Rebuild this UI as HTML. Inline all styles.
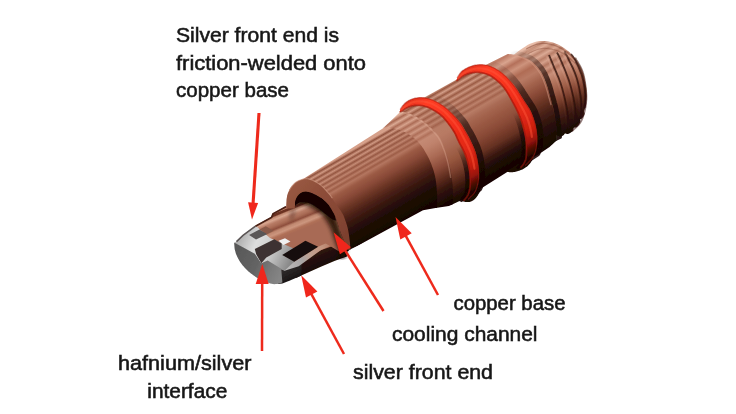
<!DOCTYPE html>
<html><head><meta charset="utf-8">
<style>
html,body{margin:0;padding:0;background:#fff;}
body{width:736px;height:414px;overflow:hidden;font-family:"Liberation Sans",sans-serif;}
svg{display:block;}
text{font-family:"Liberation Sans",sans-serif;font-size:21px;fill:#161616;stroke:#161616;stroke-width:0.55px;}
</style></head><body>
<svg width="736" height="414" viewBox="0 0 736 414">
<defs>
<filter id="soft" x="-5%" y="-5%" width="110%" height="110%"><feGaussianBlur stdDeviation="0.7"/></filter>
<filter id="soft2" x="-5%" y="-5%" width="110%" height="110%"><feGaussianBlur stdDeviation="0.5"/></filter>
<filter id="softT" x="-5%" y="-20%" width="110%" height="140%"><feGaussianBlur stdDeviation="0.35"/></filter>
<filter id="b3" x="-30%" y="-30%" width="160%" height="160%"><feGaussianBlur stdDeviation="3"/></filter>
<filter id="b2" x="-30%" y="-30%" width="160%" height="160%"><feGaussianBlur stdDeviation="2"/></filter>
<filter id="b1" x="-30%" y="-30%" width="160%" height="160%"><feGaussianBlur stdDeviation="1.1"/></filter>
<linearGradient id="gThread" gradientUnits="userSpaceOnUse" x1="538.0" y1="41.3" x2="586.5" y2="125.2"><stop offset="0.0" stop-color="#e8bca8"/><stop offset="0.036" stop-color="#be8771"/><stop offset="0.072" stop-color="#e2b39e"/><stop offset="0.108" stop-color="#bb826c"/><stop offset="0.144" stop-color="#dbaa95"/><stop offset="0.18" stop-color="#b87d67"/><stop offset="0.216" stop-color="#d5a08b"/><stop offset="0.252" stop-color="#b57862"/><stop offset="0.288" stop-color="#ce9782"/><stop offset="0.324" stop-color="#b2735d"/><stop offset="0.36" stop-color="#c88e78"/><stop offset="0.44" stop-color="#b4765f"/><stop offset="0.53" stop-color="#a0604a"/><stop offset="0.62" stop-color="#834532"/><stop offset="0.72" stop-color="#5a2a1c"/><stop offset="0.82" stop-color="#381710"/><stop offset="0.92" stop-color="#200b07"/><stop offset="1" stop-color="#160604"/></linearGradient>
<linearGradient id="gHl" gradientUnits="userSpaceOnUse" x1="538.0" y1="41.3" x2="586.5" y2="125.2"><stop offset="0" stop-color="rgba(224,176,156,0.55)"/><stop offset="0.35" stop-color="rgba(219,168,148,0.4)"/><stop offset="0.6" stop-color="rgba(200,140,120,0.1)"/><stop offset="1" stop-color="rgba(200,140,120,0)"/></linearGradient>
<linearGradient id="gShG" gradientUnits="userSpaceOnUse" x1="510.0" y1="52.0" x2="563.7" y2="145.0"><stop offset="0" stop-color="rgba(30,10,6,0)"/><stop offset="0.15" stop-color="rgba(30,10,6,0.25)"/><stop offset="0.4" stop-color="rgba(30,10,6,0.75)"/><stop offset="1" stop-color="rgba(20,6,4,0.95)"/></linearGradient>
<linearGradient id="gShoulder" gradientUnits="userSpaceOnUse" x1="492.0" y1="58.0" x2="545.2" y2="150.2"><stop offset="0" stop-color="#d39c86"/><stop offset="0.05" stop-color="#bd7c66"/><stop offset="0.1" stop-color="#d9a48e"/><stop offset="0.15" stop-color="#b4705a"/><stop offset="0.2" stop-color="#cd937c"/><stop offset="0.26" stop-color="#b06c55"/><stop offset="0.32" stop-color="#b87a64"/><stop offset="0.4" stop-color="#a3634d"/><stop offset="0.5" stop-color="#8a4a37"/><stop offset="0.6" stop-color="#683323"/><stop offset="0.7" stop-color="#472016"/><stop offset="0.8" stop-color="#2e120c"/><stop offset="0.9" stop-color="#1e0a06"/><stop offset="1" stop-color="#160604"/></linearGradient>
<linearGradient id="gMid" gradientUnits="userSpaceOnUse" x1="440.0" y1="88.0" x2="494.8" y2="183.0"><stop offset="0.0" stop-color="#d8a48e"/><stop offset="0.0236" stop-color="#975740"/><stop offset="0.0471" stop-color="#d39e88"/><stop offset="0.0707" stop-color="#995942"/><stop offset="0.0943" stop-color="#cf9983"/><stop offset="0.1179" stop-color="#9b5b44"/><stop offset="0.1414" stop-color="#ca937d"/><stop offset="0.165" stop-color="#9d5d46"/><stop offset="0.1886" stop-color="#c68d77"/><stop offset="0.2121" stop-color="#9f5f49"/><stop offset="0.2357" stop-color="#c18771"/><stop offset="0.2593" stop-color="#a1614b"/><stop offset="0.2829" stop-color="#bd826c"/><stop offset="0.3064" stop-color="#a3634d"/><stop offset="0.33" stop-color="#b87c66"/><stop offset="0.38" stop-color="#a96a54"/><stop offset="0.46" stop-color="#9c5b45"/><stop offset="0.56" stop-color="#8c4c38"/><stop offset="0.64" stop-color="#783c2b"/><stop offset="0.7" stop-color="#653122"/><stop offset="0.77" stop-color="#3c1911"/><stop offset="0.84" stop-color="#200b07"/><stop offset="0.92" stop-color="#170604"/><stop offset="1" stop-color="#160604"/></linearGradient>
<linearGradient id="gCol" gradientUnits="userSpaceOnUse" x1="402.0" y1="110.0" x2="456.7" y2="204.7"><stop offset="0.0" stop-color="#d8a48e"/><stop offset="0.025" stop-color="#975740"/><stop offset="0.05" stop-color="#d39d87"/><stop offset="0.075" stop-color="#9a5a43"/><stop offset="0.1" stop-color="#cd9781"/><stop offset="0.125" stop-color="#9c5c45"/><stop offset="0.15" stop-color="#c8907a"/><stop offset="0.175" stop-color="#9e5e48"/><stop offset="0.2" stop-color="#c38973"/><stop offset="0.225" stop-color="#a0604a"/><stop offset="0.25" stop-color="#bd836d"/><stop offset="0.275" stop-color="#a3634d"/><stop offset="0.3" stop-color="#b87c66"/><stop offset="0.38" stop-color="#b87a64"/><stop offset="0.5" stop-color="#a96a54"/><stop offset="0.62" stop-color="#98583f"/><stop offset="0.72" stop-color="#7c402e"/><stop offset="0.8" stop-color="#5a2a1c"/><stop offset="0.88" stop-color="#341409"/><stop offset="0.95" stop-color="#1c0805"/><stop offset="1" stop-color="#160604"/></linearGradient>
<linearGradient id="gCone" gradientUnits="userSpaceOnUse" x1="390.0" y1="120.0" x2="439.9" y2="206.4"><stop offset="0.0" stop-color="#e0b09a"/><stop offset="0.0283" stop-color="#aa6a54"/><stop offset="0.0567" stop-color="#dbaa94"/><stop offset="0.085" stop-color="#ac6c56"/><stop offset="0.1133" stop-color="#d7a38d"/><stop offset="0.1417" stop-color="#ac6c56"/><stop offset="0.17" stop-color="#d29d87"/><stop offset="0.1983" stop-color="#ae6e58"/><stop offset="0.2267" stop-color="#cd9781"/><stop offset="0.255" stop-color="#ae6e58"/><stop offset="0.2833" stop-color="#c9907a"/><stop offset="0.3117" stop-color="#b0705a"/><stop offset="0.34" stop-color="#c48a74"/><stop offset="0.42" stop-color="#bf826c"/><stop offset="0.54" stop-color="#aa6a54"/><stop offset="0.66" stop-color="#8a4a38"/><stop offset="0.77" stop-color="#5e2c1e"/><stop offset="0.87" stop-color="#34140c"/><stop offset="1" stop-color="#180604"/></linearGradient>
<linearGradient id="gTube" gradientUnits="userSpaceOnUse" x1="340.0" y1="157.0" x2="383.2" y2="231.9"><stop offset="0.0" stop-color="#d6a08a"/><stop offset="0.0258" stop-color="#8f513d"/><stop offset="0.0517" stop-color="#d09983"/><stop offset="0.0775" stop-color="#92543f"/><stop offset="0.1033" stop-color="#cb927c"/><stop offset="0.1292" stop-color="#955641"/><stop offset="0.155" stop-color="#c58b75"/><stop offset="0.1808" stop-color="#975843"/><stop offset="0.2067" stop-color="#bf846e"/><stop offset="0.2325" stop-color="#9a5a45"/><stop offset="0.2583" stop-color="#ba7d67"/><stop offset="0.2842" stop-color="#9d5d47"/><stop offset="0.31" stop-color="#b47660"/><stop offset="0.36" stop-color="#9c5b45"/><stop offset="0.45" stop-color="#8a4a38"/><stop offset="0.55" stop-color="#6a3424"/><stop offset="0.65" stop-color="#4a2016"/><stop offset="0.75" stop-color="#30130c"/><stop offset="0.85" stop-color="#1e0a06"/><stop offset="1" stop-color="#160604"/></linearGradient>
<linearGradient id="gTipSide" gradientUnits="userSpaceOnUse" x1="300.0" y1="256.0" x2="309.0" y2="277.0"><stop offset="0" stop-color="#38190f"/><stop offset="0.4" stop-color="#240f0a"/><stop offset="1" stop-color="#140504"/></linearGradient>
<linearGradient id="gTipSideS" gradientUnits="userSpaceOnUse" x1="278.0" y1="270.0" x2="286.0" y2="286.0"><stop offset="0" stop-color="#343030"/><stop offset="0.5" stop-color="#242020"/><stop offset="1" stop-color="#141010"/></linearGradient>
<linearGradient id="gPlane" gradientUnits="userSpaceOnUse" x1="280.0" y1="208.2" x2="290.7" y2="234.2"><stop offset="0" stop-color="#4a2016"/><stop offset="0.03" stop-color="#c89078"/><stop offset="0.09" stop-color="#c08068"/><stop offset="0.12" stop-color="#6a3020"/><stop offset="0.18" stop-color="#6e3424"/><stop offset="0.22" stop-color="#c08870"/><stop offset="0.3" stop-color="#d8a690"/><stop offset="0.4" stop-color="#b87c66"/><stop offset="0.52" stop-color="#a86a54"/><stop offset="0.62" stop-color="#8e4e3c"/><stop offset="0.7" stop-color="#c08870"/><stop offset="0.8" stop-color="#cc967e"/><stop offset="0.9" stop-color="#b07058"/><stop offset="1" stop-color="#a86a54"/></linearGradient>
<linearGradient id="gNear" gradientUnits="userSpaceOnUse" x1="282.0" y1="266.0" x2="340.0" y2="240.0"><stop offset="0" stop-color="#c0c0c0"/><stop offset="0.33" stop-color="#a8a4a4"/><stop offset="0.48" stop-color="#c0a090"/><stop offset="0.7" stop-color="#c4947e"/><stop offset="1" stop-color="#a0604c"/></linearGradient>
<linearGradient id="gSilver" gradientUnits="userSpaceOnUse" x1="240.0" y1="238.0" x2="290.0" y2="262.0"><stop offset="0" stop-color="#b0b0b0"/><stop offset="0.3" stop-color="#dedede"/><stop offset="0.6" stop-color="#cccccc"/><stop offset="1" stop-color="#8a8a8a"/></linearGradient>
<linearGradient id="gFace" gradientUnits="userSpaceOnUse" x1="236.0" y1="250.0" x2="282.0" y2="272.0"><stop offset="0" stop-color="#585858"/><stop offset="0.5" stop-color="#646464"/><stop offset="0.75" stop-color="#787878"/><stop offset="1" stop-color="#858585"/></linearGradient>
<clipPath id="archclip"><path d="M286.3,208.5 L286.3,207.4 L286.4,205.8 L286.4,204.1 L286.5,202.5 L286.6,201.2 L286.6,200.0 L286.7,198.8 L286.9,197.6 L287.1,196.4 L287.3,195.3 L287.6,194.1 L288.0,193.0 L288.4,191.9 L288.9,190.9 L289.4,189.8 L290.0,188.8 L290.6,187.8 L291.3,186.8 L292.0,185.9 L292.8,185.0 L293.6,184.2 L294.5,183.3 L295.4,182.6 L296.3,181.9 L297.3,181.3 L298.3,180.8 L299.4,180.3 L300.5,179.9 L301.6,179.5 L302.8,179.2 L304.0,178.9 L305.1,178.8 L306.1,178.8 L307.1,178.9 L308.1,179.1 L309.0,179.3 L309.9,179.6 L310.9,179.9 L311.8,180.3 L312.7,180.7 L313.6,181.1 L314.6,181.6 L315.6,182.1 L316.5,182.6 L317.4,183.2 L318.4,183.8 L319.3,184.4 L320.2,185.1 L321.1,185.8 L321.9,186.5 L322.7,187.2 L323.5,188.0 L324.3,188.8 L325.0,189.7 L325.8,190.5 L326.5,191.4 L327.2,192.2 L328.0,193.0 L328.7,193.9 L329.4,194.7 L330.1,195.6 L330.8,196.5 L331.5,197.4 L332.1,198.3 L332.7,199.2 L333.3,200.0 L333.8,200.9 L334.4,201.7 L334.9,202.5 L335.4,203.4 L336.0,204.2 L336.5,205.0 L337.1,205.8 L337.7,206.6 L338.4,207.4 L339.0,208.3 L339.6,209.2 L340.3,210.1 L340.9,211.1 L341.5,212.0 L342.0,212.9 L342.6,213.7 L343.0,214.6 L343.5,215.5 L343.9,216.4 L344.3,217.4 L344.6,218.4 L345.0,219.5 L345.4,220.7 L345.9,221.9 L346.3,223.2 L346.7,224.5 L347.1,225.7 L347.4,226.9 L347.7,228.1 L348.0,229.4 L348.3,230.9 L348.6,232.6 L348.9,234.4 L349.1,236.0 L349.3,237.5 L349.5,238.9 L349.7,240.4 L349.9,242.0 L350.1,244.0 L350.2,246.4 L350.4,248.5 L350.5,250.0 L353.0,258.0 L330.0,262.0 L282.0,236.0 L282.0,209.0 Z"/></clipPath><linearGradient id="gRingFace" gradientUnits="userSpaceOnUse" x1="288.0" y1="185.0" x2="345.0" y2="240.0"><stop offset="0" stop-color="#9a5a43"/><stop offset="0.3" stop-color="#8f4f3a"/><stop offset="0.6" stop-color="#884836"/><stop offset="1" stop-color="#7c402e"/></linearGradient>
<linearGradient id="gSh1f" gradientUnits="userSpaceOnUse" x1="408.0" y1="100.0" x2="467.8" y2="203.6"><stop offset="0" stop-color="rgba(24,6,4,0)"/><stop offset="0.55" stop-color="rgba(24,6,4,0)"/><stop offset="0.75" stop-color="rgba(24,6,4,0.7)"/><stop offset="1" stop-color="rgba(20,6,4,0.95)"/></linearGradient>
<linearGradient id="gSh2f" gradientUnits="userSpaceOnUse" x1="468.0" y1="66.0" x2="526.8" y2="167.8"><stop offset="0" stop-color="rgba(24,6,4,0)"/><stop offset="0.55" stop-color="rgba(24,6,4,0)"/><stop offset="0.75" stop-color="rgba(24,6,4,0.7)"/><stop offset="1" stop-color="rgba(20,6,4,0.95)"/></linearGradient>
<linearGradient id="gSh1" gradientUnits="userSpaceOnUse" x1="408.0" y1="100.0" x2="467.8" y2="203.6"><stop offset="0" stop-color="rgba(24,6,4,0)"/><stop offset="0.22" stop-color="rgba(24,6,4,0.12)"/><stop offset="0.42" stop-color="rgba(24,6,4,0.6)"/><stop offset="1" stop-color="rgba(24,6,4,0.9)"/></linearGradient>
<linearGradient id="gSh2" gradientUnits="userSpaceOnUse" x1="468.0" y1="66.0" x2="526.8" y2="167.8"><stop offset="0" stop-color="rgba(24,6,4,0)"/><stop offset="0.22" stop-color="rgba(24,6,4,0.12)"/><stop offset="0.42" stop-color="rgba(24,6,4,0.6)"/><stop offset="1" stop-color="rgba(24,6,4,0.9)"/></linearGradient>
<linearGradient id="gO1" gradientUnits="userSpaceOnUse" x1="408.0" y1="100.0" x2="467.8" y2="203.6"><stop offset="0" stop-color="#e0301c"/><stop offset="0.1" stop-color="#ff3c24"/><stop offset="0.4" stop-color="#f22e1a"/><stop offset="0.6" stop-color="#e02816"/><stop offset="0.74" stop-color="#c81e0e"/><stop offset="0.82" stop-color="#9a1409"/><stop offset="0.88" stop-color="#4e0a04"/><stop offset="0.93" stop-color="#220604"/><stop offset="1" stop-color="#1a0503"/></linearGradient>
<linearGradient id="gO2" gradientUnits="userSpaceOnUse" x1="468.0" y1="66.0" x2="526.8" y2="167.8"><stop offset="0" stop-color="#e0301c"/><stop offset="0.1" stop-color="#ff3c24"/><stop offset="0.4" stop-color="#f22e1a"/><stop offset="0.6" stop-color="#e02816"/><stop offset="0.74" stop-color="#c81e0e"/><stop offset="0.82" stop-color="#9a1409"/><stop offset="0.88" stop-color="#4e0a04"/><stop offset="0.93" stop-color="#220604"/><stop offset="1" stop-color="#1a0503"/></linearGradient>
<clipPath id="bodyclip"><path d="M456.7,79.5 L457.0,79.2 L457.4,78.7 L457.9,78.2 L458.5,77.6 L459.1,76.9 L459.7,76.3 L460.4,75.6 L461.0,75.0 L461.7,74.4 L462.4,73.9 L463.0,73.4 L463.7,73.0 L464.3,72.6 L465.0,72.2 L465.8,71.8 L466.5,71.5 L467.2,71.2 L468.0,70.9 L468.8,70.6 L469.6,70.3 L470.4,70.0 L471.2,69.8 L472.1,69.6 L472.9,69.4 L473.8,69.2 L474.7,69.1 L475.6,68.9 L476.5,68.8 L477.4,68.8 L478.4,68.8 L479.3,68.8 L480.2,68.8 L481.2,68.9 L482.1,69.0 L483.1,69.1 L484.0,69.3 L485.0,69.5 L485.9,69.7 L486.9,70.0 L487.8,70.2 L488.7,70.6 L489.6,70.9 L490.5,71.3 L491.4,71.8 L492.3,72.2 L493.2,72.7 L494.0,73.3 L494.9,73.8 L495.7,74.4 L496.6,75.0 L497.4,75.6 L498.3,76.2 L499.1,76.8 L499.9,77.5 L500.7,78.2 L501.6,78.9 L502.4,79.6 L503.2,80.4 L504.0,81.2 L504.8,82.1 L505.5,83.0 L506.3,83.9 L507.1,84.9 L507.9,85.9 L508.6,86.9 L509.4,87.9 L510.2,89.0 L510.9,90.1 L511.7,91.3 L512.5,92.5 L513.3,93.7 L514.1,95.0 L514.9,96.3 L515.7,97.7 L516.5,99.1 L517.3,100.5 L518.1,102.0 L518.9,103.4 L519.6,104.8 L520.4,106.1 L521.1,107.4 L521.7,108.7 L522.4,110.0 L523.1,111.2 L523.7,112.5 L524.4,113.8 L525.0,115.0 L525.5,116.3 L526.1,117.6 L526.6,118.8 L527.1,120.2 L527.6,121.5 L528.0,122.8 L528.4,124.1 L528.8,125.5 L529.2,126.8 L529.5,128.1 L529.8,129.5 L530.1,130.8 L530.4,132.1 L530.6,133.3 L530.8,134.6 L531.0,135.9 L531.2,137.2 L531.3,138.4 L531.4,139.7 L531.5,140.9 L531.5,142.1 L531.6,143.2 L531.6,144.3 L531.6,145.4 L531.6,146.5 L531.6,147.5 L531.5,148.5 L531.4,149.4 L531.4,150.4 L531.3,151.3 L531.1,152.1 L531.0,153.0 L530.9,153.8 L530.7,154.5 L530.5,155.2 L530.3,155.9 L530.1,156.5 L529.8,157.1 L529.6,157.7 L529.3,158.3 L529.1,158.8 L528.8,159.4 L528.5,159.9 L528.2,160.4 L527.9,160.9 L527.5,161.4 L527.1,161.9 L526.8,162.4 L526.4,162.8 L526.0,163.3 L525.7,163.7 L525.3,164.0 L525.0,164.4 L524.7,164.7 L524.4,165.0 L524.1,165.3 L523.8,165.6 L523.5,165.9 L523.3,166.1 L523.0,166.3 L522.8,166.5 L522.6,166.6 L522.5,166.8 L552.0,147.5 L552.2,147.4 L552.5,147.2 L552.8,147.1 L553.1,146.8 L553.5,146.6 L553.8,146.3 L554.2,145.9 L554.5,145.5 L554.8,145.0 L555.1,144.5 L555.5,143.8 L555.8,143.2 L556.1,142.5 L556.4,141.7 L556.6,140.9 L556.8,140.0 L556.9,139.0 L556.9,138.0 L556.9,136.9 L556.9,135.8 L556.9,134.6 L556.8,133.4 L556.7,132.2 L556.6,131.0 L556.5,129.8 L556.4,128.7 L556.3,127.5 L556.2,126.4 L556.0,125.2 L555.9,123.9 L555.7,122.7 L555.5,121.4 L555.3,120.1 L555.1,118.7 L554.9,117.2 L554.6,115.8 L554.4,114.3 L554.1,112.9 L553.8,111.4 L553.5,110.0 L553.2,108.6 L552.8,107.2 L552.5,105.9 L552.1,104.5 L551.7,103.2 L551.3,101.8 L550.9,100.3 L550.5,98.8 L550.1,97.2 L549.6,95.5 L549.1,93.7 L548.6,91.9 L548.1,90.1 L547.6,88.3 L547.0,86.6 L546.5,85.0 L545.9,83.4 L545.4,81.9 L544.8,80.4 L544.2,79.0 L543.6,77.6 L543.0,76.2 L542.3,74.9 L541.7,73.7 L541.0,72.6 L540.4,71.5 L539.7,70.5 L539.0,69.5 L538.3,68.6 L537.5,67.7 L536.8,66.9 L536.0,66.0 L535.2,65.1 L534.5,64.3 L533.7,63.5 L532.9,62.7 L532.0,62.0 L531.1,61.3 L530.2,60.6 L529.1,59.9 L527.9,59.2 L526.6,58.6 L525.2,58.0 L523.8,57.4 L522.3,56.9 L520.8,56.4 L519.4,55.9 L518.0,55.5 L516.6,55.2 L515.1,54.9 L513.6,54.7 L512.2,54.5 L510.8,54.3 L509.5,54.2 L508.5,54.1 L507.7,54.0 Z"/><path d="M399.9,110.9 L400.3,110.6 L400.8,110.1 L401.3,109.6 L401.9,109.0 L402.6,108.4 L403.4,107.7 L404.1,107.1 L404.8,106.5 L405.6,105.9 L406.3,105.4 L407.0,105.0 L407.7,104.6 L408.4,104.2 L409.1,103.9 L409.9,103.5 L411.0,103.0 L411.8,102.7 L412.6,102.5 L413.4,102.3 L414.3,102.1 L415.2,102.0 L416.1,101.8 L417.0,101.8 L418.0,101.7 L418.9,101.7 L419.9,101.7 L420.9,101.7 L421.9,101.8 L422.8,101.9 L423.8,102.0 L425.2,102.3 L426.1,102.5 L427.1,102.8 L428.0,103.0 L429.0,103.4 L429.9,103.7 L430.9,104.1 L431.8,104.5 L432.8,105.0 L433.7,105.4 L434.7,105.9 L435.6,106.5 L436.6,107.0 L437.5,107.6 L438.5,108.2 L439.9,109.2 L440.8,109.8 L441.7,110.5 L442.6,111.2 L443.5,111.9 L444.3,112.7 L445.1,113.5 L446.0,114.3 L446.8,115.1 L447.6,116.0 L448.4,116.8 L449.2,117.7 L450.0,118.6 L450.8,119.6 L451.6,120.5 L452.9,121.9 L453.6,122.9 L454.4,123.8 L455.1,124.8 L455.8,125.7 L456.4,126.6 L457.0,127.4 L457.6,128.3 L458.1,129.1 L458.6,130.0 L459.1,130.8 L459.5,131.6 L459.9,132.4 L460.3,133.2 L460.7,134.0 L461.3,135.2 L461.7,135.9 L462.1,136.7 L462.5,137.5 L462.9,138.3 L463.4,139.2 L463.9,140.1 L464.4,141.1 L465.0,142.2 L465.6,143.4 L466.2,144.6 L466.9,145.9 L467.5,147.3 L468.1,148.6 L468.7,150.0 L469.6,152.0 L470.1,153.4 L470.6,154.8 L471.0,156.1 L471.4,157.5 L471.8,158.8 L472.1,160.1 L472.4,161.5 L472.7,162.8 L473.0,164.1 L473.2,165.4 L473.4,166.6 L473.6,167.8 L473.8,169.0 L473.9,170.2 L474.1,172.0 L474.2,173.1 L474.3,174.2 L474.3,175.3 L474.4,176.4 L474.4,177.5 L474.4,178.5 L474.4,179.5 L474.3,180.5 L474.3,181.5 L474.2,182.5 L474.1,183.5 L474.0,184.4 L473.9,185.3 L473.7,186.2 L473.4,187.4 L473.3,188.2 L473.1,189.0 L472.9,189.7 L472.6,190.4 L472.4,191.1 L472.1,191.7 L471.9,192.3 L471.6,192.9 L471.3,193.5 L471.0,194.0 L470.7,194.5 L470.4,195.0 L470.1,195.4 L469.8,195.9 L469.2,196.4 L468.9,196.8 L468.6,197.1 L468.3,197.5 L468.0,197.8 L467.7,198.1 L467.4,198.4 L467.2,198.7 L466.9,198.9 L466.7,199.2 L466.5,199.4 L466.3,199.6 L466.1,199.8 L466.0,199.9 L465.8,200.1 L522.5,166.8 L522.6,166.6 L522.8,166.5 L523.0,166.3 L523.3,166.1 L523.5,165.9 L523.8,165.6 L524.1,165.3 L524.4,165.0 L524.7,164.7 L525.0,164.4 L525.3,164.0 L525.7,163.7 L526.0,163.3 L526.4,162.8 L526.8,162.4 L527.1,161.9 L527.5,161.4 L527.9,160.9 L528.2,160.4 L528.5,159.9 L528.8,159.4 L529.1,158.8 L529.3,158.3 L529.6,157.7 L529.8,157.1 L530.1,156.5 L530.3,155.9 L530.5,155.2 L530.7,154.5 L530.9,153.8 L531.0,153.0 L531.1,152.1 L531.3,151.3 L531.4,150.4 L531.4,149.4 L531.5,148.5 L531.6,147.5 L531.6,146.5 L531.6,145.4 L531.6,144.3 L531.6,143.2 L531.5,142.1 L531.5,140.9 L531.4,139.7 L531.3,138.4 L531.2,137.2 L531.0,135.9 L530.8,134.6 L530.6,133.3 L530.4,132.1 L530.1,130.8 L529.8,129.5 L529.5,128.1 L529.2,126.8 L528.8,125.5 L528.4,124.1 L528.0,122.8 L527.6,121.5 L527.1,120.2 L526.6,118.8 L526.1,117.6 L525.5,116.3 L525.0,115.0 L524.4,113.8 L523.7,112.5 L523.1,111.2 L522.4,110.0 L521.7,108.7 L521.1,107.4 L520.4,106.1 L519.6,104.8 L518.9,103.4 L518.1,102.0 L517.3,100.5 L516.5,99.1 L515.7,97.7 L514.9,96.3 L514.1,95.0 L513.3,93.7 L512.5,92.5 L511.7,91.3 L510.9,90.1 L510.2,89.0 L509.4,87.9 L508.6,86.9 L507.9,85.9 L507.1,84.9 L506.3,83.9 L505.5,83.0 L504.8,82.1 L504.0,81.2 L503.2,80.4 L502.4,79.6 L501.6,78.9 L500.7,78.2 L499.9,77.5 L499.1,76.8 L498.3,76.2 L497.4,75.6 L496.6,75.0 L495.7,74.4 L494.9,73.8 L494.0,73.3 L493.2,72.7 L492.3,72.2 L491.4,71.8 L490.5,71.3 L489.6,70.9 L488.7,70.6 L487.8,70.2 L486.9,70.0 L485.9,69.7 L485.0,69.5 L484.0,69.3 L483.1,69.1 L482.1,69.0 L481.2,68.9 L480.2,68.8 L479.3,68.8 L478.4,68.8 L477.4,68.8 L476.5,68.8 L475.6,68.9 L474.7,69.1 L473.8,69.2 L472.9,69.4 L472.1,69.6 L471.2,69.8 L470.4,70.0 L469.6,70.3 L468.8,70.6 L468.0,70.9 L467.2,71.2 L466.5,71.5 L465.8,71.8 L465.0,72.2 L464.3,72.6 L463.7,73.0 L463.0,73.4 L462.4,73.9 L461.7,74.4 L461.0,75.0 L460.4,75.6 L459.7,76.3 L459.1,76.9 L458.5,77.6 L457.9,78.2 L457.4,78.7 L457.0,79.2 L456.7,79.5 Z"/><path d="M399.0,112.4 L399.8,112.6 L401.0,112.9 L402.3,113.2 L403.8,113.5 L405.3,113.9 L406.9,114.4 L408.5,114.9 L410.0,115.5 L411.5,116.2 L413.0,117.0 L414.6,117.8 L416.2,118.7 L417.7,119.7 L419.2,120.6 L420.7,121.6 L422.0,122.5 L423.2,123.4 L424.4,124.3 L425.5,125.2 L426.5,126.2 L427.5,127.1 L428.5,128.0 L429.5,129.0 L430.5,130.0 L431.5,131.0 L432.5,132.0 L433.5,133.0 L434.5,134.0 L435.4,135.1 L436.3,136.2 L437.2,137.3 L438.0,138.5 L438.8,139.7 L439.5,141.0 L440.1,142.4 L440.7,143.8 L441.3,145.2 L441.9,146.6 L442.4,148.1 L443.0,149.5 L443.5,151.0 L444.1,152.4 L444.6,153.9 L445.0,155.5 L445.5,157.0 L446.0,158.5 L446.4,160.1 L446.8,161.7 L447.2,163.3 L447.6,165.0 L447.9,166.6 L448.3,168.3 L448.6,170.0 L448.9,171.7 L449.2,173.4 L449.5,175.0 L449.8,176.6 L450.0,178.3 L450.2,180.0 L450.4,181.6 L450.6,183.2 L450.7,184.8 L450.9,186.3 L451.0,187.8 L451.1,189.2 L451.2,190.6 L451.2,191.9 L451.3,193.1 L451.3,194.4 L451.3,195.6 L451.3,196.8 L451.3,198.0 L451.3,199.2 L451.3,200.5 L451.2,201.9 L451.2,203.1 L451.1,204.3 L451.1,205.4 L451.0,206.3 L451.0,207.0 L465.8,200.1 L466.0,199.9 L466.1,199.8 L466.3,199.6 L466.5,199.4 L466.7,199.2 L466.9,198.9 L467.2,198.7 L467.4,198.4 L467.7,198.1 L468.0,197.8 L468.3,197.5 L468.6,197.1 L468.9,196.8 L469.2,196.4 L469.8,195.9 L470.1,195.4 L470.4,195.0 L470.7,194.5 L471.0,194.0 L471.3,193.5 L471.6,192.9 L471.9,192.3 L472.1,191.7 L472.4,191.1 L472.6,190.4 L472.9,189.7 L473.1,189.0 L473.3,188.2 L473.4,187.4 L473.7,186.2 L473.9,185.3 L474.0,184.4 L474.1,183.5 L474.2,182.5 L474.3,181.5 L474.3,180.5 L474.4,179.5 L474.4,178.5 L474.4,177.5 L474.4,176.4 L474.3,175.3 L474.3,174.2 L474.2,173.1 L474.1,172.0 L473.9,170.2 L473.8,169.0 L473.6,167.8 L473.4,166.6 L473.2,165.4 L473.0,164.1 L472.7,162.8 L472.4,161.5 L472.1,160.1 L471.8,158.8 L471.4,157.5 L471.0,156.1 L470.6,154.8 L470.1,153.4 L469.6,152.0 L468.7,150.0 L468.1,148.6 L467.5,147.3 L466.9,145.9 L466.2,144.6 L465.6,143.4 L465.0,142.2 L464.4,141.1 L463.9,140.1 L463.4,139.2 L462.9,138.3 L462.5,137.5 L462.1,136.7 L461.7,135.9 L461.3,135.2 L460.7,134.0 L460.3,133.2 L459.9,132.4 L459.5,131.6 L459.1,130.8 L458.6,130.0 L458.1,129.1 L457.6,128.3 L457.0,127.4 L456.4,126.6 L455.8,125.7 L455.1,124.8 L454.4,123.8 L453.6,122.9 L452.9,121.9 L451.6,120.5 L450.8,119.6 L450.0,118.6 L449.2,117.7 L448.4,116.8 L447.6,116.0 L446.8,115.1 L446.0,114.3 L445.1,113.5 L444.3,112.7 L443.5,111.9 L442.6,111.2 L441.7,110.5 L440.8,109.8 L439.9,109.2 L438.5,108.2 L437.5,107.6 L436.6,107.0 L435.6,106.5 L434.7,105.9 L433.7,105.4 L432.8,105.0 L431.8,104.5 L430.9,104.1 L429.9,103.7 L429.0,103.4 L428.0,103.0 L427.1,102.8 L426.1,102.5 L425.2,102.3 L423.8,102.0 L422.8,101.9 L421.9,101.8 L420.9,101.7 L419.9,101.7 L418.9,101.7 L418.0,101.7 L417.0,101.8 L416.1,101.8 L415.2,102.0 L414.3,102.1 L413.4,102.3 L412.6,102.5 L411.8,102.7 L411.0,103.0 L409.9,103.5 L409.1,103.9 L408.4,104.2 L407.7,104.6 L407.0,105.0 L406.3,105.4 L405.6,105.9 L404.8,106.5 L404.1,107.1 L403.4,107.7 L402.6,108.4 L401.9,109.0 L401.3,109.6 L400.8,110.1 L400.3,110.6 L399.9,110.9 Z"/><path d="M383.0,128.3 L383.6,128.4 L384.4,128.5 L385.4,128.6 L386.5,128.7 L387.6,128.8 L388.8,129.0 L389.9,129.1 L391.0,129.3 L392.0,129.5 L393.0,129.7 L394.0,129.9 L395.0,130.1 L396.0,130.3 L397.0,130.6 L398.0,130.9 L399.0,131.2 L400.0,131.6 L400.9,132.0 L401.9,132.4 L402.8,132.9 L403.7,133.4 L404.7,133.9 L405.6,134.5 L406.5,135.0 L407.4,135.6 L408.3,136.1 L409.2,136.7 L410.1,137.4 L411.0,138.0 L411.9,138.7 L412.7,139.3 L413.5,140.0 L414.3,140.7 L415.0,141.4 L415.7,142.1 L416.4,142.9 L417.1,143.6 L417.7,144.4 L418.4,145.2 L419.0,146.0 L419.6,146.8 L420.2,147.6 L420.8,148.4 L421.3,149.3 L421.9,150.1 L422.4,151.1 L423.0,152.0 L423.6,153.0 L424.2,154.1 L424.8,155.2 L425.5,156.3 L426.1,157.5 L426.7,158.7 L427.3,160.0 L427.9,161.2 L428.5,162.5 L429.0,163.8 L429.6,165.1 L430.1,166.5 L430.6,167.9 L431.1,169.3 L431.5,170.6 L431.9,172.0 L432.3,173.3 L432.6,174.6 L433.0,175.8 L433.2,177.0 L433.5,178.2 L433.7,179.3 L433.9,180.5 L434.1,181.8 L434.3,183.0 L434.5,184.3 L434.6,185.7 L434.7,187.0 L434.9,188.4 L435.0,189.8 L435.0,191.2 L435.1,192.4 L435.2,193.6 L435.3,194.7 L435.3,195.7 L435.4,196.6 L435.4,197.5 L435.5,198.3 L435.5,199.2 L435.5,200.1 L435.5,201.0 L435.5,202.0 L435.5,203.1 L435.4,204.3 L435.4,205.5 L435.3,206.6 L435.3,207.5 L435.2,208.4 L435.2,209.0 L452.7,206.0 L452.8,205.3 L452.8,204.4 L452.8,203.3 L452.9,202.1 L453.0,200.9 L453.0,199.5 L453.0,198.2 L453.0,197.0 L453.0,195.8 L453.0,194.6 L453.0,193.4 L453.0,192.1 L453.0,190.9 L452.9,189.6 L452.8,188.2 L452.7,186.8 L452.6,185.3 L452.5,183.8 L452.3,182.2 L452.1,180.6 L451.9,179.0 L451.7,177.3 L451.5,175.6 L451.2,174.0 L451.0,172.4 L450.7,170.7 L450.4,169.0 L450.0,167.3 L449.7,165.6 L449.3,164.0 L448.9,162.3 L448.5,160.7 L448.1,159.1 L447.7,157.5 L447.2,156.0 L446.8,154.5 L446.3,152.9 L445.8,151.4 L445.3,150.0 L444.7,148.5 L444.2,147.1 L443.6,145.6 L443.1,144.2 L442.5,142.8 L441.8,141.4 L441.2,140.0 L440.5,138.7 L439.7,137.5 L438.9,136.3 L438.1,135.2 L437.1,134.1 L436.2,133.0 L435.2,132.0 L434.2,131.0 L433.2,130.0 L432.2,129.0 L431.2,128.0 L430.3,127.0 L429.3,126.1 L428.3,125.2 L427.2,124.2 L426.1,123.3 L425.0,122.4 L423.7,121.5 L422.4,120.6 L421.0,119.6 L419.4,118.7 L417.9,117.7 L416.3,116.8 L414.7,116.0 L413.2,115.2 L411.7,114.5 L410.2,113.9 L408.7,113.4 L407.1,112.9 L405.5,112.5 L404.0,112.2 L402.7,111.9 L401.6,111.6 L400.7,111.4 Z"/></clipPath><clipPath id="silclip"><path d="M330.0,262.0 L341.5,255.5 L365.0,241.7 L395.3,225.3 L423.0,210.3 L435.5,207.9 L449.0,206.0 L462.7,199.5 L480.3,189.0 L508.0,171.5 L530.6,158.5 L538.0,154.7 L549.5,147.0 L556.0,141.0 L600.0,120.0 L600.0,0.0 L250.0,0.0 L250.0,262.0 Z"/></clipPath></defs>
<rect width="736" height="414" fill="#fff"/>
<g id="electrode" filter="url(#soft)">
<g clip-path="url(#silclip)"><path d="M512.0,56.0 L513.5,54.9 L515.7,53.2 L518.0,51.5 L520.4,49.8 L523.0,48.0 L525.4,46.4 L527.5,45.1 L529.5,44.1 L531.5,43.2 L533.6,42.4 L535.8,41.8 L538.0,41.3 L540.2,41.0 L542.3,40.9 L544.5,41.0 L546.6,41.2 L548.7,41.5 L550.8,42.0 L553.0,42.6 L555.3,43.4 L557.5,44.3 L559.6,45.3 L561.6,46.5 L563.5,47.7 L565.4,49.0 L567.3,50.4 L569.0,51.8 L570.6,53.3 L572.1,54.9 L573.6,56.6 L575.1,58.3 L576.5,60.1 L577.8,62.0 L579.0,64.0 L580.2,66.0 L581.2,68.0 L582.1,70.0 L582.8,72.0 L583.5,74.0 L584.1,76.1 L584.5,78.3 L585.0,80.6 L585.5,83.0 L585.9,85.5 L586.3,88.0 L586.6,90.6 L586.7,93.3 L586.8,95.9 L586.7,98.6 L586.5,101.3 L586.3,103.5 L586.1,105.0 L585.9,105.9 L585.6,107.0 L585.1,108.3 L584.4,109.7 L584.0,111.0 L584.1,112.0 L584.5,113.0 L584.6,114.0 L584.1,115.3 L583.3,116.8 L582.4,118.0 L581.5,118.7 L580.6,119.1 L580.0,119.6 L580.0,120.4 L580.3,121.4 L580.2,122.6 L579.4,124.1 L578.2,125.7 L577.0,127.0 L575.8,127.5 L574.5,127.6 L573.6,128.0 L573.4,128.9 L573.4,129.9 L573.0,131.0 L571.6,132.1 L569.7,133.3 L568.0,134.0 L566.8,134.0 L565.9,133.5 L565.0,133.4 L564.4,134.0 L563.9,134.9 L563.0,135.6 L561.9,136.3 L560.4,136.8 L558.0,136.0 L554.5,134.3 L550.1,131.2 L545.0,125.0 L538.1,112.3 L530.4,96.4 L525.0,85.0 Z" fill="url(#gThread)"/>
<path d="M575.0,57.8 L575.6,58.9 L576.4,60.3 L577.4,61.9 L578.5,63.8 L579.7,65.8 L580.7,67.8 L581.7,69.9 L582.5,72.0 L583.1,74.1 L583.7,76.3 L584.2,78.6 L584.6,81.0 L585.0,83.3 L585.3,85.6 L585.6,87.9 L585.8,90.0 L586.0,92.0 L586.1,93.9 L586.2,95.8 L586.2,97.6 L586.2,99.4 L586.0,101.2 L585.9,103.1 L585.6,105.0 L585.3,107.0 L584.9,109.1 L584.4,111.2 L583.9,113.3 L583.2,115.4 L582.6,117.4 L581.8,119.3 L581.0,121.0 L580.0,122.6 L578.8,124.2 L577.6,125.6 L576.2,127.0 L574.9,128.2 L573.7,129.3 L572.7,130.3 L572.0,131.0" stroke="#3a160e" stroke-width="2.2" fill="none" opacity="0.55"/>
<path d="M549.0,55.0 L549.3,55.7 L549.7,56.6 L550.1,57.7 L550.6,58.9 L551.2,60.3 L551.9,61.9 L552.6,63.6 L553.3,65.4 L554.1,67.4 L555.1,69.7 L556.2,72.1 L557.2,74.6 L558.4,77.3 L559.4,80.0 L560.5,82.9 L561.4,85.7 L562.3,88.7 L563.1,91.9 L564.0,95.2 L564.8,98.6 L565.5,101.9 L566.2,105.1 L566.8,108.2 L567.3,111.0 L567.7,113.6 L568.0,116.2 L568.1,118.7 L568.3,121.1 L568.3,123.2 L568.4,125.1 L568.4,126.7 L568.5,128.0" stroke="#2a0e08" stroke-width="1.8" fill="none" opacity="0.75"/>
<path d="M546.7,56.3 L547.1,57.0 L547.4,57.9 L547.9,59.0 L548.4,60.2 L549.0,61.6 L549.6,63.2 L550.3,64.9 L551.0,66.7 L551.9,68.7 L552.9,71.0 L553.9,73.4 L555.0,75.9 L556.1,78.6 L557.2,81.3 L558.2,84.2 L559.1,87.0 L560.0,90.0 L560.9,93.2 L561.7,96.5 L562.5,99.9 L563.3,103.2 L564.0,106.4 L564.6,109.5 L565.0,112.3 L565.4,114.9 L565.7,117.5 L565.9,120.0 L566.0,122.4 L566.1,124.5 L566.1,126.4 L566.2,128.0 L566.2,129.3" stroke="url(#gHl)" stroke-width="1.3" fill="none"/>
<path d="M557.0,52.5 L557.3,53.1 L557.7,53.8 L558.2,54.7 L558.7,55.7 L559.3,56.9 L559.9,58.2 L560.6,59.8 L561.4,61.6 L562.3,63.7 L563.3,66.1 L564.4,68.7 L565.6,71.5 L566.7,74.5 L567.8,77.4 L568.9,80.4 L569.8,83.2 L570.6,86.0 L571.4,89.0 L572.1,91.9 L572.8,94.9 L573.5,97.8 L574.0,100.7 L574.5,103.4 L574.9,106.0 L575.2,108.5 L575.4,111.1 L575.5,113.5 L575.6,115.9 L575.6,118.1 L575.6,120.1 L575.6,121.7 L575.6,123.0" stroke="#2a0e08" stroke-width="1.8" fill="none" opacity="0.75"/>
<path d="M554.7,53.8 L555.1,54.4 L555.4,55.1 L555.9,56.0 L556.4,57.0 L557.0,58.2 L557.7,59.5 L558.4,61.1 L559.1,62.9 L560.0,65.0 L561.0,67.4 L562.2,70.0 L563.3,72.8 L564.5,75.8 L565.6,78.7 L566.6,81.7 L567.5,84.5 L568.4,87.3 L569.2,90.3 L569.9,93.2 L570.6,96.2 L571.2,99.1 L571.8,102.0 L572.2,104.7 L572.6,107.3 L573.0,109.8 L573.1,112.4 L573.3,114.8 L573.3,117.2 L573.3,119.4 L573.3,121.4 L573.3,123.0 L573.3,124.3" stroke="url(#gHl)" stroke-width="1.3" fill="none"/>
<path d="M564.5,51.5 L564.8,52.0 L565.1,52.6 L565.5,53.3 L566.0,54.1 L566.5,55.0 L567.1,56.1 L567.8,57.5 L568.5,59.0 L569.3,60.8 L570.3,62.8 L571.4,65.1 L572.6,67.5 L573.7,70.1 L574.8,72.7 L575.8,75.4 L576.7,78.0 L577.5,80.7 L578.2,83.6 L578.9,86.6 L579.5,89.7 L580.0,92.7 L580.5,95.6 L580.9,98.4 L581.2,101.0 L581.4,103.4 L581.5,105.9 L581.5,108.2 L581.5,110.4 L581.4,112.5 L581.3,114.3 L581.2,115.8 L581.2,117.0" stroke="#2a0e08" stroke-width="1.8" fill="none" opacity="0.75"/>
<path d="M562.2,52.8 L562.5,53.3 L562.9,53.9 L563.3,54.6 L563.7,55.4 L564.3,56.3 L564.9,57.4 L565.5,58.8 L566.2,60.3 L567.1,62.1 L568.1,64.1 L569.2,66.4 L570.3,68.8 L571.5,71.4 L572.6,74.0 L573.6,76.7 L574.4,79.3 L575.2,82.0 L575.9,84.9 L576.6,87.9 L577.2,91.0 L577.8,94.0 L578.2,96.9 L578.6,99.7 L578.9,102.3 L579.2,104.7 L579.3,107.2 L579.3,109.5 L579.2,111.7 L579.1,113.8 L579.1,115.6 L579.0,117.1 L578.9,118.3" stroke="url(#gHl)" stroke-width="1.3" fill="none"/>
<path d="M571.0,54.0 L571.3,54.4 L571.6,54.8 L572.1,55.4 L572.6,56.0 L573.1,56.8 L573.7,57.7 L574.3,58.7 L575.0,60.0 L575.8,61.5 L576.6,63.2 L577.6,65.2 L578.6,67.2 L579.5,69.4 L580.4,71.6 L581.3,73.8 L582.0,76.0 L582.6,78.2 L583.2,80.5 L583.6,82.8 L584.1,85.1 L584.5,87.5 L584.8,89.7 L585.0,91.9 L585.2,94.0 L585.3,96.0 L585.3,98.1 L585.2,100.2 L585.1,102.1 L584.9,104.0 L584.7,105.6 L584.6,106.9 L584.5,108.0" stroke="#2a0e08" stroke-width="1.8" fill="none" opacity="0.75"/>
<path d="M568.7,55.3 L569.0,55.7 L569.4,56.1 L569.8,56.7 L570.3,57.3 L570.9,58.1 L571.4,59.0 L572.1,60.0 L572.7,61.3 L573.5,62.8 L574.4,64.5 L575.3,66.5 L576.3,68.5 L577.3,70.7 L578.2,72.9 L579.0,75.1 L579.7,77.3 L580.4,79.5 L580.9,81.8 L581.4,84.1 L581.8,86.4 L582.2,88.8 L582.5,91.0 L582.8,93.2 L582.9,95.3 L583.0,97.3 L583.0,99.4 L582.9,101.5 L582.8,103.4 L582.6,105.3 L582.5,106.9 L582.3,108.2 L582.2,109.3" stroke="url(#gHl)" stroke-width="1.3" fill="none"/>
<path d="M526.1,48.9 L527.1,48.5 L528.4,47.8 L529.9,47.1 L531.6,46.3 L533.5,45.5 L535.3,44.8 L537.1,44.2 L538.8,43.8 L540.3,43.6 L541.9,43.4 L543.5,43.4 L545.1,43.5 L546.7,43.6 L548.4,43.8 L550.0,44.1 L551.5,44.5 L553.2,45.0 L554.8,45.5 L556.4,46.1 L558.1,46.8 L559.7,47.6 L561.3,48.4 L562.8,49.3 L564.2,50.2 L565.7,51.2 L567.2,52.4 L568.7,53.7 L570.1,55.0 L571.4,56.3 L572.6,57.4 L573.6,58.4 L574.4,59.1" stroke="#8a4a36" stroke-width="1.2" fill="none" opacity="0.5"/>
<path d="M526.9,51.4 L527.9,51.0 L529.2,50.3 L530.7,49.6 L532.4,48.8 L534.2,48.0 L536.0,47.3 L537.8,46.7 L539.5,46.3 L541.1,46.1 L542.7,45.9 L544.3,45.9 L545.9,46.0 L547.5,46.1 L549.1,46.3 L550.7,46.6 L552.3,47.0 L553.9,47.4 L555.5,48.0 L557.2,48.6 L558.8,49.3 L560.4,50.1 L562.0,50.9 L563.5,51.8 L565.0,52.7 L566.5,53.7 L567.9,54.9 L569.4,56.2 L570.8,57.5 L572.2,58.8 L573.3,59.9 L574.3,60.9 L575.1,61.6" stroke="#d9a48c" stroke-width="1.2" fill="none" opacity="0.45"/>
<path d="M527.6,53.9 L528.6,53.5 L529.9,52.8 L531.4,52.1 L533.1,51.3 L535.0,50.5 L536.8,49.8 L538.6,49.2 L540.2,48.8 L541.8,48.6 L543.4,48.4 L545.0,48.4 L546.6,48.5 L548.2,48.6 L549.9,48.8 L551.5,49.1 L553.0,49.5 L554.7,49.9 L556.3,50.5 L557.9,51.1 L559.6,51.8 L561.2,52.6 L562.8,53.4 L564.3,54.3 L565.8,55.2 L567.2,56.2 L568.7,57.4 L570.2,58.7 L571.6,60.0 L572.9,61.3 L574.1,62.4 L575.1,63.4 L575.9,64.1" stroke="#8a4a36" stroke-width="1.2" fill="none" opacity="0.4"/>
<path d="M513.2,52.9 L514.6,53.1 L516.1,53.3 L517.6,53.5 L519.0,53.8 L520.4,54.1 L521.8,54.5 L523.2,55.0 L524.7,55.5 L526.2,56.0 L527.6,56.6 L529.0,57.2 L530.3,57.8 L531.5,58.5 L532.6,59.2 L533.6,59.9 L534.5,60.6 L535.3,61.3 L536.1,62.1 L536.9,62.9 L537.6,63.7 L538.4,64.6 L539.2,65.5 L540.0,66.3 L540.7,67.2 L541.4,68.1 L542.1,69.1 L542.8,70.1 L543.5,71.2 L544.1,72.3 L544.8,73.5 L545.4,74.8 L546.0,76.2 L546.6,77.6 L547.2,79.0 L547.8,80.5 L548.4,82.0 L548.9,83.6 L549.5,85.2 L550.0,86.9 L550.5,88.7 L551.0,90.5 L551.5,92.3 L552.0,94.1 L552.5,95.8 L552.9,97.4 L553.4,98.9 L553.8,100.4 L554.2,101.8 L554.5,103.1 L554.9,104.5 L555.3,105.8 L555.6,107.2 L555.9,108.6 L556.2,110.0 L556.5,111.5 L556.8,112.9 L557.0,114.4 L557.3,115.8 L557.5,117.3 L557.7,118.7 L557.9,120.0 L558.1,121.3 L558.3,122.5 L558.4,123.8 L558.6,125.0 L558.7,126.1 L558.8,127.3 L558.9,128.4 L559.0,129.6 L559.1,130.8 L559.2,132.0 L559.3,133.2 L559.3,134.4 L559.4,135.5 L559.4,136.6 L559.3,137.6 L559.2,138.6 L559.1,139.5 L558.8,140.3 L558.6,141.1 L558.2,141.8 L557.9,142.4 L557.6,143.1 L557.2,143.6 L556.9,144.1 L556.6,144.5 L556.3,144.9 L555.9,145.2 L555.5,145.4 L555.2,145.7 L554.9,145.8 L554.6,146.0" stroke="url(#gShG)" stroke-width="5" fill="none" stroke-linecap="round"/>
<path d="M456.7,79.5 L457.0,79.2 L457.4,78.7 L457.9,78.2 L458.5,77.6 L459.1,76.9 L459.7,76.3 L460.4,75.6 L461.0,75.0 L461.7,74.4 L462.4,73.9 L463.0,73.4 L463.7,73.0 L464.3,72.6 L465.0,72.2 L465.8,71.8 L466.5,71.5 L467.2,71.2 L468.0,70.9 L468.8,70.6 L469.6,70.3 L470.4,70.0 L471.2,69.8 L472.1,69.6 L472.9,69.4 L473.8,69.2 L474.7,69.1 L475.6,68.9 L476.5,68.8 L477.4,68.8 L478.4,68.8 L479.3,68.8 L480.2,68.8 L481.2,68.9 L482.1,69.0 L483.1,69.1 L484.0,69.3 L485.0,69.5 L485.9,69.7 L486.9,70.0 L487.8,70.2 L488.7,70.6 L489.6,70.9 L490.5,71.3 L491.4,71.8 L492.3,72.2 L493.2,72.7 L494.0,73.3 L494.9,73.8 L495.7,74.4 L496.6,75.0 L497.4,75.6 L498.3,76.2 L499.1,76.8 L499.9,77.5 L500.7,78.2 L501.6,78.9 L502.4,79.6 L503.2,80.4 L504.0,81.2 L504.8,82.1 L505.5,83.0 L506.3,83.9 L507.1,84.9 L507.9,85.9 L508.6,86.9 L509.4,87.9 L510.2,89.0 L510.9,90.1 L511.7,91.3 L512.5,92.5 L513.3,93.7 L514.1,95.0 L514.9,96.3 L515.7,97.7 L516.5,99.1 L517.3,100.5 L518.1,102.0 L518.9,103.4 L519.6,104.8 L520.4,106.1 L521.1,107.4 L521.7,108.7 L522.4,110.0 L523.1,111.2 L523.7,112.5 L524.4,113.8 L525.0,115.0 L525.5,116.3 L526.1,117.6 L526.6,118.8 L527.1,120.2 L527.6,121.5 L528.0,122.8 L528.4,124.1 L528.8,125.5 L529.2,126.8 L529.5,128.1 L529.8,129.5 L530.1,130.8 L530.4,132.1 L530.6,133.3 L530.8,134.6 L531.0,135.9 L531.2,137.2 L531.3,138.4 L531.4,139.7 L531.5,140.9 L531.5,142.1 L531.6,143.2 L531.6,144.3 L531.6,145.4 L531.6,146.5 L531.6,147.5 L531.5,148.5 L531.4,149.4 L531.4,150.4 L531.3,151.3 L531.1,152.1 L531.0,153.0 L530.9,153.8 L530.7,154.5 L530.5,155.2 L530.3,155.9 L530.1,156.5 L529.8,157.1 L529.6,157.7 L529.3,158.3 L529.1,158.8 L528.8,159.4 L528.5,159.9 L528.2,160.4 L527.9,160.9 L527.5,161.4 L527.1,161.9 L526.8,162.4 L526.4,162.8 L526.0,163.3 L525.7,163.7 L525.3,164.0 L525.0,164.4 L524.7,164.7 L524.4,165.0 L524.1,165.3 L523.8,165.6 L523.5,165.9 L523.3,166.1 L523.0,166.3 L522.8,166.5 L522.6,166.6 L522.5,166.8 L552.0,147.5 L552.2,147.4 L552.5,147.2 L552.8,147.1 L553.1,146.8 L553.5,146.6 L553.8,146.3 L554.2,145.9 L554.5,145.5 L554.8,145.0 L555.1,144.5 L555.5,143.8 L555.8,143.2 L556.1,142.5 L556.4,141.7 L556.6,140.9 L556.8,140.0 L556.9,139.0 L556.9,138.0 L556.9,136.9 L556.9,135.8 L556.9,134.6 L556.8,133.4 L556.7,132.2 L556.6,131.0 L556.5,129.8 L556.4,128.7 L556.3,127.5 L556.2,126.4 L556.0,125.2 L555.9,123.9 L555.7,122.7 L555.5,121.4 L555.3,120.1 L555.1,118.7 L554.9,117.2 L554.6,115.8 L554.4,114.3 L554.1,112.9 L553.8,111.4 L553.5,110.0 L553.2,108.6 L552.8,107.2 L552.5,105.9 L552.1,104.5 L551.7,103.2 L551.3,101.8 L550.9,100.3 L550.5,98.8 L550.1,97.2 L549.6,95.5 L549.1,93.7 L548.6,91.9 L548.1,90.1 L547.6,88.3 L547.0,86.6 L546.5,85.0 L545.9,83.4 L545.4,81.9 L544.8,80.4 L544.2,79.0 L543.6,77.6 L543.0,76.2 L542.3,74.9 L541.7,73.7 L541.0,72.6 L540.4,71.5 L539.7,70.5 L539.0,69.5 L538.3,68.6 L537.5,67.7 L536.8,66.9 L536.0,66.0 L535.2,65.1 L534.5,64.3 L533.7,63.5 L532.9,62.7 L532.0,62.0 L531.1,61.3 L530.2,60.6 L529.1,59.9 L527.9,59.2 L526.6,58.6 L525.2,58.0 L523.8,57.4 L522.3,56.9 L520.8,56.4 L519.4,55.9 L518.0,55.5 L516.6,55.2 L515.1,54.9 L513.6,54.7 L512.2,54.5 L510.8,54.3 L509.5,54.2 L508.5,54.1 L507.7,54.0 Z" fill="url(#gShoulder)"/>
<path d="M508.5,54.8 L509.7,54.9 L511.1,55.1 L512.6,55.3 L514.1,55.5 L515.6,55.8 L517.0,56.1 L518.3,56.5 L519.8,57.0 L521.2,57.5 L522.7,58.0 L524.2,58.6 L525.6,59.2 L526.9,59.8 L528.1,60.5 L529.1,61.2 L530.1,61.9 L531.0,62.6 L531.8,63.3 L532.6,64.1 L533.4,64.9 L534.2,65.7 L535.0,66.6 L535.7,67.5 L536.5,68.3 L537.2,69.2 L537.9,70.1 L538.6,71.1 L539.3,72.1 L540.0,73.2 L540.7,74.3 L541.3,75.5 L541.9,76.8 L542.6,78.2 L543.2,79.6 L543.8,81.0 L544.3,82.5 L544.9,84.0 L545.5,85.6 L546.0,87.2 L546.5,88.9 L547.1,90.7 L547.6,92.5 L548.1,94.3 L548.5,96.1 L549.0,97.8 L549.5,99.4 L549.9,100.9 L550.3,102.4 L550.7,103.8 L551.1,105.1" stroke="#d7a08a" stroke-width="1.3" fill="none" opacity="0.5"/>
<path d="M399.9,110.9 L400.3,110.6 L400.8,110.1 L401.3,109.6 L401.9,109.0 L402.6,108.4 L403.4,107.7 L404.1,107.1 L404.8,106.5 L405.6,105.9 L406.3,105.4 L407.0,105.0 L407.7,104.6 L408.4,104.2 L409.1,103.9 L409.9,103.5 L411.0,103.0 L411.8,102.7 L412.6,102.5 L413.4,102.3 L414.3,102.1 L415.2,102.0 L416.1,101.8 L417.0,101.8 L418.0,101.7 L418.9,101.7 L419.9,101.7 L420.9,101.7 L421.9,101.8 L422.8,101.9 L423.8,102.0 L425.2,102.3 L426.1,102.5 L427.1,102.8 L428.0,103.0 L429.0,103.4 L429.9,103.7 L430.9,104.1 L431.8,104.5 L432.8,105.0 L433.7,105.4 L434.7,105.9 L435.6,106.5 L436.6,107.0 L437.5,107.6 L438.5,108.2 L439.9,109.2 L440.8,109.8 L441.7,110.5 L442.6,111.2 L443.5,111.9 L444.3,112.7 L445.1,113.5 L446.0,114.3 L446.8,115.1 L447.6,116.0 L448.4,116.8 L449.2,117.7 L450.0,118.6 L450.8,119.6 L451.6,120.5 L452.9,121.9 L453.6,122.9 L454.4,123.8 L455.1,124.8 L455.8,125.7 L456.4,126.6 L457.0,127.4 L457.6,128.3 L458.1,129.1 L458.6,130.0 L459.1,130.8 L459.5,131.6 L459.9,132.4 L460.3,133.2 L460.7,134.0 L461.3,135.2 L461.7,135.9 L462.1,136.7 L462.5,137.5 L462.9,138.3 L463.4,139.2 L463.9,140.1 L464.4,141.1 L465.0,142.2 L465.6,143.4 L466.2,144.6 L466.9,145.9 L467.5,147.3 L468.1,148.6 L468.7,150.0 L469.6,152.0 L470.1,153.4 L470.6,154.8 L471.0,156.1 L471.4,157.5 L471.8,158.8 L472.1,160.1 L472.4,161.5 L472.7,162.8 L473.0,164.1 L473.2,165.4 L473.4,166.6 L473.6,167.8 L473.8,169.0 L473.9,170.2 L474.1,172.0 L474.2,173.1 L474.3,174.2 L474.3,175.3 L474.4,176.4 L474.4,177.5 L474.4,178.5 L474.4,179.5 L474.3,180.5 L474.3,181.5 L474.2,182.5 L474.1,183.5 L474.0,184.4 L473.9,185.3 L473.7,186.2 L473.4,187.4 L473.3,188.2 L473.1,189.0 L472.9,189.7 L472.6,190.4 L472.4,191.1 L472.1,191.7 L471.9,192.3 L471.6,192.9 L471.3,193.5 L471.0,194.0 L470.7,194.5 L470.4,195.0 L470.1,195.4 L469.8,195.9 L469.2,196.4 L468.9,196.8 L468.6,197.1 L468.3,197.5 L468.0,197.8 L467.7,198.1 L467.4,198.4 L467.2,198.7 L466.9,198.9 L466.7,199.2 L466.5,199.4 L466.3,199.6 L466.1,199.8 L466.0,199.9 L465.8,200.1 L522.5,166.8 L522.6,166.6 L522.8,166.5 L523.0,166.3 L523.3,166.1 L523.5,165.9 L523.8,165.6 L524.1,165.3 L524.4,165.0 L524.7,164.7 L525.0,164.4 L525.3,164.0 L525.7,163.7 L526.0,163.3 L526.4,162.8 L526.8,162.4 L527.1,161.9 L527.5,161.4 L527.9,160.9 L528.2,160.4 L528.5,159.9 L528.8,159.4 L529.1,158.8 L529.3,158.3 L529.6,157.7 L529.8,157.1 L530.1,156.5 L530.3,155.9 L530.5,155.2 L530.7,154.5 L530.9,153.8 L531.0,153.0 L531.1,152.1 L531.3,151.3 L531.4,150.4 L531.4,149.4 L531.5,148.5 L531.6,147.5 L531.6,146.5 L531.6,145.4 L531.6,144.3 L531.6,143.2 L531.5,142.1 L531.5,140.9 L531.4,139.7 L531.3,138.4 L531.2,137.2 L531.0,135.9 L530.8,134.6 L530.6,133.3 L530.4,132.1 L530.1,130.8 L529.8,129.5 L529.5,128.1 L529.2,126.8 L528.8,125.5 L528.4,124.1 L528.0,122.8 L527.6,121.5 L527.1,120.2 L526.6,118.8 L526.1,117.6 L525.5,116.3 L525.0,115.0 L524.4,113.8 L523.7,112.5 L523.1,111.2 L522.4,110.0 L521.7,108.7 L521.1,107.4 L520.4,106.1 L519.6,104.8 L518.9,103.4 L518.1,102.0 L517.3,100.5 L516.5,99.1 L515.7,97.7 L514.9,96.3 L514.1,95.0 L513.3,93.7 L512.5,92.5 L511.7,91.3 L510.9,90.1 L510.2,89.0 L509.4,87.9 L508.6,86.9 L507.9,85.9 L507.1,84.9 L506.3,83.9 L505.5,83.0 L504.8,82.1 L504.0,81.2 L503.2,80.4 L502.4,79.6 L501.6,78.9 L500.7,78.2 L499.9,77.5 L499.1,76.8 L498.3,76.2 L497.4,75.6 L496.6,75.0 L495.7,74.4 L494.9,73.8 L494.0,73.3 L493.2,72.7 L492.3,72.2 L491.4,71.8 L490.5,71.3 L489.6,70.9 L488.7,70.6 L487.8,70.2 L486.9,70.0 L485.9,69.7 L485.0,69.5 L484.0,69.3 L483.1,69.1 L482.1,69.0 L481.2,68.9 L480.2,68.8 L479.3,68.8 L478.4,68.8 L477.4,68.8 L476.5,68.8 L475.6,68.9 L474.7,69.1 L473.8,69.2 L472.9,69.4 L472.1,69.6 L471.2,69.8 L470.4,70.0 L469.6,70.3 L468.8,70.6 L468.0,70.9 L467.2,71.2 L466.5,71.5 L465.8,71.8 L465.0,72.2 L464.3,72.6 L463.7,73.0 L463.0,73.4 L462.4,73.9 L461.7,74.4 L461.0,75.0 L460.4,75.6 L459.7,76.3 L459.1,76.9 L458.5,77.6 L457.9,78.2 L457.4,78.7 L457.0,79.2 L456.7,79.5 Z" fill="url(#gMid)"/>
<path d="M399.0,112.4 L399.8,112.6 L401.0,112.9 L402.3,113.2 L403.8,113.5 L405.3,113.9 L406.9,114.4 L408.5,114.9 L410.0,115.5 L411.5,116.2 L413.0,117.0 L414.6,117.8 L416.2,118.7 L417.7,119.7 L419.2,120.6 L420.7,121.6 L422.0,122.5 L423.2,123.4 L424.4,124.3 L425.5,125.2 L426.5,126.2 L427.5,127.1 L428.5,128.0 L429.5,129.0 L430.5,130.0 L431.5,131.0 L432.5,132.0 L433.5,133.0 L434.5,134.0 L435.4,135.1 L436.3,136.2 L437.2,137.3 L438.0,138.5 L438.8,139.7 L439.5,141.0 L440.1,142.4 L440.7,143.8 L441.3,145.2 L441.9,146.6 L442.4,148.1 L443.0,149.5 L443.5,151.0 L444.1,152.4 L444.6,153.9 L445.0,155.5 L445.5,157.0 L446.0,158.5 L446.4,160.1 L446.8,161.7 L447.2,163.3 L447.6,165.0 L447.9,166.6 L448.3,168.3 L448.6,170.0 L448.9,171.7 L449.2,173.4 L449.5,175.0 L449.8,176.6 L450.0,178.3 L450.2,180.0 L450.4,181.6 L450.6,183.2 L450.7,184.8 L450.9,186.3 L451.0,187.8 L451.1,189.2 L451.2,190.6 L451.2,191.9 L451.3,193.1 L451.3,194.4 L451.3,195.6 L451.3,196.8 L451.3,198.0 L451.3,199.2 L451.3,200.5 L451.2,201.9 L451.2,203.1 L451.1,204.3 L451.1,205.4 L451.0,206.3 L451.0,207.0 L465.8,200.1 L466.0,199.9 L466.1,199.8 L466.3,199.6 L466.5,199.4 L466.7,199.2 L466.9,198.9 L467.2,198.7 L467.4,198.4 L467.7,198.1 L468.0,197.8 L468.3,197.5 L468.6,197.1 L468.9,196.8 L469.2,196.4 L469.8,195.9 L470.1,195.4 L470.4,195.0 L470.7,194.5 L471.0,194.0 L471.3,193.5 L471.6,192.9 L471.9,192.3 L472.1,191.7 L472.4,191.1 L472.6,190.4 L472.9,189.7 L473.1,189.0 L473.3,188.2 L473.4,187.4 L473.7,186.2 L473.9,185.3 L474.0,184.4 L474.1,183.5 L474.2,182.5 L474.3,181.5 L474.3,180.5 L474.4,179.5 L474.4,178.5 L474.4,177.5 L474.4,176.4 L474.3,175.3 L474.3,174.2 L474.2,173.1 L474.1,172.0 L473.9,170.2 L473.8,169.0 L473.6,167.8 L473.4,166.6 L473.2,165.4 L473.0,164.1 L472.7,162.8 L472.4,161.5 L472.1,160.1 L471.8,158.8 L471.4,157.5 L471.0,156.1 L470.6,154.8 L470.1,153.4 L469.6,152.0 L468.7,150.0 L468.1,148.6 L467.5,147.3 L466.9,145.9 L466.2,144.6 L465.6,143.4 L465.0,142.2 L464.4,141.1 L463.9,140.1 L463.4,139.2 L462.9,138.3 L462.5,137.5 L462.1,136.7 L461.7,135.9 L461.3,135.2 L460.7,134.0 L460.3,133.2 L459.9,132.4 L459.5,131.6 L459.1,130.8 L458.6,130.0 L458.1,129.1 L457.6,128.3 L457.0,127.4 L456.4,126.6 L455.8,125.7 L455.1,124.8 L454.4,123.8 L453.6,122.9 L452.9,121.9 L451.6,120.5 L450.8,119.6 L450.0,118.6 L449.2,117.7 L448.4,116.8 L447.6,116.0 L446.8,115.1 L446.0,114.3 L445.1,113.5 L444.3,112.7 L443.5,111.9 L442.6,111.2 L441.7,110.5 L440.8,109.8 L439.9,109.2 L438.5,108.2 L437.5,107.6 L436.6,107.0 L435.6,106.5 L434.7,105.9 L433.7,105.4 L432.8,105.0 L431.8,104.5 L430.9,104.1 L429.9,103.7 L429.0,103.4 L428.0,103.0 L427.1,102.8 L426.1,102.5 L425.2,102.3 L423.8,102.0 L422.8,101.9 L421.9,101.8 L420.9,101.7 L419.9,101.7 L418.9,101.7 L418.0,101.7 L417.0,101.8 L416.1,101.8 L415.2,102.0 L414.3,102.1 L413.4,102.3 L412.6,102.5 L411.8,102.7 L411.0,103.0 L409.9,103.5 L409.1,103.9 L408.4,104.2 L407.7,104.6 L407.0,105.0 L406.3,105.4 L405.6,105.9 L404.8,106.5 L404.1,107.1 L403.4,107.7 L402.6,108.4 L401.9,109.0 L401.3,109.6 L400.8,110.1 L400.3,110.6 L399.9,110.9 Z" fill="url(#gCol)"/>
<path d="M383.0,128.3 L383.6,128.4 L384.4,128.5 L385.4,128.6 L386.5,128.7 L387.6,128.8 L388.8,129.0 L389.9,129.1 L391.0,129.3 L392.0,129.5 L393.0,129.7 L394.0,129.9 L395.0,130.1 L396.0,130.3 L397.0,130.6 L398.0,130.9 L399.0,131.2 L400.0,131.6 L400.9,132.0 L401.9,132.4 L402.8,132.9 L403.7,133.4 L404.7,133.9 L405.6,134.5 L406.5,135.0 L407.4,135.6 L408.3,136.1 L409.2,136.7 L410.1,137.4 L411.0,138.0 L411.9,138.7 L412.7,139.3 L413.5,140.0 L414.3,140.7 L415.0,141.4 L415.7,142.1 L416.4,142.9 L417.1,143.6 L417.7,144.4 L418.4,145.2 L419.0,146.0 L419.6,146.8 L420.2,147.6 L420.8,148.4 L421.3,149.3 L421.9,150.1 L422.4,151.1 L423.0,152.0 L423.6,153.0 L424.2,154.1 L424.8,155.2 L425.5,156.3 L426.1,157.5 L426.7,158.7 L427.3,160.0 L427.9,161.2 L428.5,162.5 L429.0,163.8 L429.6,165.1 L430.1,166.5 L430.6,167.9 L431.1,169.3 L431.5,170.6 L431.9,172.0 L432.3,173.3 L432.6,174.6 L433.0,175.8 L433.2,177.0 L433.5,178.2 L433.7,179.3 L433.9,180.5 L434.1,181.8 L434.3,183.0 L434.5,184.3 L434.6,185.7 L434.7,187.0 L434.9,188.4 L435.0,189.8 L435.0,191.2 L435.1,192.4 L435.2,193.6 L435.3,194.7 L435.3,195.7 L435.4,196.6 L435.4,197.5 L435.5,198.3 L435.5,199.2 L435.5,200.1 L435.5,201.0 L435.5,202.0 L435.5,203.1 L435.4,204.3 L435.4,205.5 L435.3,206.6 L435.3,207.5 L435.2,208.4 L435.2,209.0 L452.7,206.0 L452.8,205.3 L452.8,204.4 L452.8,203.3 L452.9,202.1 L453.0,200.9 L453.0,199.5 L453.0,198.2 L453.0,197.0 L453.0,195.8 L453.0,194.6 L453.0,193.4 L453.0,192.1 L453.0,190.9 L452.9,189.6 L452.8,188.2 L452.7,186.8 L452.6,185.3 L452.5,183.8 L452.3,182.2 L452.1,180.6 L451.9,179.0 L451.7,177.3 L451.5,175.6 L451.2,174.0 L451.0,172.4 L450.7,170.7 L450.4,169.0 L450.0,167.3 L449.7,165.6 L449.3,164.0 L448.9,162.3 L448.5,160.7 L448.1,159.1 L447.7,157.5 L447.2,156.0 L446.8,154.5 L446.3,152.9 L445.8,151.4 L445.3,150.0 L444.7,148.5 L444.2,147.1 L443.6,145.6 L443.1,144.2 L442.5,142.8 L441.8,141.4 L441.2,140.0 L440.5,138.7 L439.7,137.5 L438.9,136.3 L438.1,135.2 L437.1,134.1 L436.2,133.0 L435.2,132.0 L434.2,131.0 L433.2,130.0 L432.2,129.0 L431.2,128.0 L430.3,127.0 L429.3,126.1 L428.3,125.2 L427.2,124.2 L426.1,123.3 L425.0,122.4 L423.7,121.5 L422.4,120.6 L421.0,119.6 L419.4,118.7 L417.9,117.7 L416.3,116.8 L414.7,116.0 L413.2,115.2 L411.7,114.5 L410.2,113.9 L408.7,113.4 L407.1,112.9 L405.5,112.5 L404.0,112.2 L402.7,111.9 L401.6,111.6 L400.7,111.4 Z" fill="url(#gCone)"/>
<path d="M404.4,113.1 L406.0,113.5 L407.6,114.0 L409.2,114.5 L410.7,115.1 L412.2,115.8 L413.7,116.6 L415.3,117.4 L416.8,118.3 L418.4,119.3 L419.9,120.2 L421.4,121.2 L422.7,122.1 L423.9,123.0 L425.1,123.9 L426.2,124.8 L427.2,125.8 L428.2,126.7 L429.2,127.6 L430.2,128.6 L431.2,129.6 L432.2,130.6 L433.2,131.6 L434.2,132.6 L435.2,133.6 L436.1,134.7 L437.0,135.8 L437.9,136.9 L438.7,138.1 L439.4,139.3 L440.1,140.6 L440.8,142.0 L441.4,143.4 L442.0,144.8 L442.6,146.2 L443.1,147.7 L443.7,149.1 L444.2,150.6 L444.8,152.0 L445.3,153.5 L445.7,155.1 L446.2,156.6 L446.6,158.1 L447.1,159.7 L447.5,161.3 L447.9,162.9 L448.3,164.6 L448.6,166.2 L449.0,167.9 L449.3,169.6 L449.6,171.3 L449.9,173.0 L450.2,174.6 L450.4,176.2 L450.7,177.9" stroke="#dcaa94" stroke-width="1.4" fill="none" opacity="0.4"/>
<path d="M286.3,208.5 L286.9,197.6 L290.0,188.8 L296.3,181.9 L302.7,179.3 L384.7,127.3 L385.3,127.4 L386.2,127.5 L387.1,127.6 L388.2,127.7 L389.4,127.8 L390.5,128.0 L391.7,128.1 L392.7,128.3 L393.7,128.5 L394.7,128.7 L395.8,128.9 L396.8,129.1 L397.8,129.3 L398.8,129.6 L399.8,129.9 L400.7,130.2 L401.7,130.6 L402.7,131.0 L403.6,131.4 L404.5,131.9 L405.5,132.4 L406.4,132.9 L407.3,133.5 L408.2,134.0 L409.1,134.6 L410.1,135.1 L411.0,135.7 L411.9,136.4 L412.7,137.0 L413.6,137.7 L414.4,138.3 L415.2,139.0 L416.0,139.7 L416.7,140.4 L417.4,141.1 L418.1,141.9 L418.8,142.6 L419.5,143.4 L420.1,144.2 L420.7,145.0 L421.3,145.8 L421.9,146.6 L422.5,147.4 L423.1,148.3 L423.6,149.1 L424.2,150.1 L424.7,151.0 L425.3,152.0 L425.9,153.1 L426.6,154.2 L427.2,155.3 L427.8,156.5 L428.5,157.7 L429.1,159.0 L429.7,160.2 L430.2,161.5 L430.8,162.8 L431.3,164.1 L431.8,165.5 L432.3,166.9 L432.8,168.3 L433.2,169.6 L433.7,171.0 L434.0,172.3 L434.4,173.6 L434.7,174.8 L435.0,176.0 L435.2,177.2 L435.4,178.3 L435.7,179.5 L435.8,180.8 L436.0,182.0 L436.2,183.3 L436.3,184.7 L436.5,186.0 L436.6,187.4 L436.7,188.8 L436.8,190.2 L436.9,191.4 L436.9,192.6 L437.0,193.7 L437.1,194.7 L437.1,195.6 L437.2,196.5 L437.2,197.3 L437.2,198.2 L437.2,199.1 L437.2,200.0 L437.2,201.0 L437.2,202.1 L437.2,203.3 L437.1,204.5 L437.0,205.6 L437.0,206.5 L437.0,207.4 L436.9,208.0 L350.0,249.5 L347.0,252.0 Z" fill="url(#gTube)"/></g><path d="M300.0,258.0 L346.0,238.0 L347.0,256.5 L335.0,260.8 L321.4,266.5 L300.7,275.7 L296.0,278.0 Z" fill="url(#gTipSide)"/>
<path d="M281.2,268.8 L301.5,258.0 L301.5,275.5 L290.0,280.5 L282.4,283.4 L278.0,284.0 Z" fill="url(#gTipSideS)"/>
<path d="M250.0,229.6 L255.5,225.5 L271.5,216.8 L272.8,213.2 L286.0,206.0 L296.0,206.0 L340.0,228.0 L340.0,243.6 L321.4,250.0 L300.7,259.2 L281.2,268.8 L262.0,262.0 Z" fill="url(#gPlane)"/>
<path d="M294.2,261.7 L318.1,246.7 L339.8,237.3 L341.0,240.9 L321.1,250.0 L298.7,266.2 L284.5,270.7 L282.2,267.2 Z" fill="url(#gNear)"/>
<path d="M234.5,243.0 L242.5,235.2 L255.5,225.5 L259.5,229.0 L270.0,238.0 L288.0,246.0 L296.0,249.5 L294.2,261.7 L284.5,270.7 L262.0,262.0 L253.4,253.8 Z" fill="url(#gSilver)"/>
<path d="M278.5,240.8 L285.0,238.3 L290.5,241.6 L283.5,245.0 Z" fill="#f0f0f0"/>
<path d="M236.5,241.6 L243.0,235.4 L255.5,226.2" stroke="#5a5454" stroke-width="1.5" fill="none"/>
<path d="M255.5,226.2 L271.5,217.5 L273.0,213.8 L286.0,206.8" stroke="#4a2016" stroke-width="1.7" fill="none"/>
<path d="M249.1,234.9 L259.4,229.4 L267.5,234.0 L256.0,239.5 Z" fill="#5a5656"/>
<path d="M259.4,229.4 L265.8,226.2 L273.6,230.7 L267.5,234.0 Z" fill="#8a5a48"/>
<path d="M254.8,249.1 L274.3,239.2 L281.7,243.4 L281.7,249.1 L266.3,257.4 L261.3,263.3 L256.2,254.2 Z" fill="#3c3230"/>
<path d="M282.2,254.9 L305.4,240.7 L318.1,246.7 L294.2,261.7 Z" fill="#160c0a"/>
<path d="M234.2,242.5 L234.2,243.1 L234.2,244.0 L234.3,245.1 L234.4,246.3 L234.5,247.5 L234.6,248.6 L234.8,249.7 L235.1,250.8 L235.4,251.8 L235.7,252.9 L236.0,254.0 L236.5,255.1 L237.0,256.2 L237.5,257.3 L238.1,258.5 L238.7,259.6 L239.4,260.8 L240.1,262.0 L240.9,263.1 L241.8,264.3 L242.7,265.5 L243.7,266.6 L244.7,267.8 L245.7,268.8 L246.7,269.8 L247.7,270.8 L248.7,271.7 L249.8,272.6 L250.9,273.5 L252.1,274.3 L253.3,275.2 L254.5,276.1 L255.7,276.9 L257.0,277.7 L258.2,278.5 L259.4,279.2 L260.6,279.8 L261.7,280.3 L262.8,280.8 L263.9,281.3 L265.1,281.7 L266.3,282.1 L267.6,282.6 L268.9,283.0 L270.2,283.5 L271.6,283.8 L273.0,284.1 L274.3,284.2 L275.8,284.1 L277.3,283.9 L278.9,283.5 L280.3,283.2 L281.5,282.8 L282.4,282.6 L281.2,268.8 L267.7,260.6 L261.3,263.3 L254.8,253.7 Z" fill="url(#gFace)"/><path d="M294.8,208.5 L294.8,207.8 L294.8,206.7 L294.9,205.5 L294.9,204.5 L294.9,203.7 L294.9,202.9 L295.0,202.1 L295.1,201.4 L295.3,200.6 L295.5,199.9 L295.8,199.1 L296.1,198.4 L296.4,197.7 L296.8,197.1 L297.2,196.4 L297.6,195.8 L298.1,195.2 L298.7,194.6 L299.3,194.1 L299.9,193.6 L300.5,193.1 L301.2,192.7 L301.9,192.3 L302.6,192.0 L303.3,191.8 L304.1,191.7 L304.9,191.6 L305.7,191.6 L306.5,191.6 L307.3,191.7 L308.1,191.8 L308.9,192.0 L309.8,192.2 L310.8,192.6 L311.7,192.9 L312.7,193.3 L313.6,193.7 L314.6,194.2 L315.5,194.6 L316.4,195.1 L317.2,195.5 L318.0,196.0 L318.8,196.4 L319.6,196.9 L320.4,197.4 L321.2,197.8 L321.9,198.3 L322.7,198.9 L323.4,199.5 L324.2,200.2 L324.9,200.9 L325.6,201.6 L326.3,202.3 L327.0,203.0 L327.7,203.7 L328.4,204.5 L329.0,205.3 L329.6,206.2 L330.2,207.0 L330.7,207.9 L331.3,208.8 L331.8,209.7 L332.3,210.7 L332.8,211.5 L333.2,212.3 L333.6,212.9 L334.0,213.6 L334.3,214.3 L334.6,214.9 L334.9,215.5 L335.2,216.2 L335.6,217.2 L336.1,218.7 L336.7,220.6 L337.4,222.6 L338.0,224.5 L338.6,226.4 L339.2,228.2 L339.8,230.1 L340.4,231.9 L341.0,233.6 L341.7,235.3 L342.4,236.9 L343.0,238.5 L343.7,240.1 L344.3,241.6 L344.9,243.1 L345.5,244.5 L346.0,245.9 L346.4,247.4 L346.8,248.6 L347.0,249.5 L340.0,252.0 L300.0,228.0 L294.0,213.0 Z" fill="url(#gPlane)"/>
<g clip-path="url(#archclip)"><path d="M294.8,208.5 L294.8,207.8 L294.8,206.7 L294.9,205.5 L294.9,204.5 L294.9,203.7 L294.9,202.9 L295.0,202.1 L295.1,201.4 L295.3,200.6 L295.5,199.9 L295.8,199.1 L296.1,198.4 L296.4,197.7 L296.8,197.1 L297.2,196.4 L297.6,195.8 L298.1,195.2 L298.7,194.6 L299.3,194.1 L299.9,193.6 L300.5,193.1 L301.2,192.7 L301.9,192.3 L302.6,192.0 L303.3,191.8 L304.1,191.7 L304.9,191.6 L305.7,191.6 L306.5,191.6 L307.3,191.7 L308.1,191.8 L308.9,192.0 L309.8,192.2 L310.8,192.6 L311.7,192.9 L312.7,193.3 L313.6,193.7 L314.6,194.2 L315.5,194.6 L316.4,195.1 L317.2,195.5 L318.0,196.0 L318.8,196.4 L319.6,196.9 L320.4,197.4 L321.2,197.8 L321.9,198.3 L322.7,198.9 L323.4,199.5 L324.2,200.2 L324.9,200.9 L325.6,201.6 L326.3,202.3 L327.0,203.0 L327.7,203.7 L328.4,204.5 L329.0,205.3 L329.6,206.2 L330.2,207.0 L330.7,207.9 L331.3,208.8 L331.8,209.7 L332.3,210.7 L332.8,211.5 L333.2,212.3 L333.6,212.9 L334.0,213.6 L334.3,214.3 L334.6,214.9 L334.9,215.5 L335.2,216.2 L335.6,217.2 L336.1,218.7 L336.7,220.6 L337.4,222.6 L338.0,224.5 L338.6,226.4 L339.2,228.2 L339.8,230.1 L340.4,231.9 L341.0,233.6 L341.7,235.3 L342.4,236.9 L343.0,238.5 L343.7,240.1 L344.3,241.6 L344.9,243.1 L345.5,244.5 L346.0,245.9 L346.4,247.4 L346.8,248.6 L347.0,249.5 L343.0,262.5 L342.8,261.6 L342.4,260.4 L342.0,258.9 L341.5,257.5 L340.9,256.1 L340.3,254.6 L339.7,253.1 L339.0,251.5 L338.4,249.9 L337.7,248.3 L337.0,246.6 L336.4,244.9 L335.8,243.1 L335.2,241.2 L334.6,239.4 L334.0,237.5 L333.4,235.6 L332.7,233.6 L332.1,231.7 L331.6,230.2 L331.2,229.2 L330.9,228.5 L330.6,227.9 L330.3,227.3 L330.0,226.6 L329.6,225.9 L329.2,225.3 L328.8,224.5 L328.3,223.7 L327.8,222.7 L327.3,221.8 L326.7,220.9 L326.2,220.0 L325.6,219.2 L325.0,218.3 L324.4,217.5 L323.7,216.7 L323.0,216.0 L322.3,215.3 L321.6,214.6 L320.9,213.9 L320.2,213.2 L319.4,212.5 L318.7,211.9 L317.9,211.3 L317.2,210.8 L316.4,210.4 L315.6,209.9 L314.8,209.4 L314.0,209.0 L313.2,208.5 L312.4,208.1 L311.5,207.6 L310.6,207.2 L309.6,206.7 L308.7,206.3 L307.7,205.9 L306.8,205.6 L305.8,205.2 L304.9,205.0 L304.1,204.8 L303.3,204.7 L302.5,204.6 L301.7,204.6 L300.9,204.6 L300.1,204.7 L299.3,204.8 L298.6,205.0 L297.9,205.3 L297.2,205.7 L296.5,206.1 L295.9,206.6 L295.3,207.1 L294.7,207.6 L294.1,208.2 L293.6,208.8 L293.2,209.4 L292.8,210.1 L292.4,210.7 L292.1,211.4 L291.8,212.1 L291.5,212.9 L291.3,213.6 L291.1,214.4 L291.0,215.1 L290.9,215.9 L290.9,216.7 L290.9,217.5 L290.9,218.5 L290.8,219.7 L290.8,220.8 L290.8,221.5 Z" fill="#1a0805" opacity="0.85" filter="url(#b2)"/></g>
<path d="M294.9,202.9 L295.0,202.1 L295.1,201.4 L295.3,200.6 L295.5,199.9 L295.8,199.1 L296.1,198.4 L296.4,197.7 L296.8,197.1 L297.2,196.4 L297.6,195.8 L298.1,195.2 L298.7,194.6 L299.3,194.1 L299.9,193.6 L300.5,193.1 L301.2,192.7 L301.9,192.3 L302.6,192.0 L303.3,191.8 L304.1,191.7 L304.9,191.6 L305.7,191.6 L306.5,191.6 L307.3,191.7 L308.1,191.8 L308.9,192.0 L309.8,192.2 L310.8,192.6 L311.7,192.9 L312.7,193.3 L313.6,193.7 L314.6,194.2 L315.5,194.6 L316.4,195.1 L317.2,195.5 L318.0,196.0 L318.8,196.4 L319.6,196.9 L320.4,197.4 L321.2,197.8 L321.9,198.3 L322.7,198.9 L323.4,199.5 L324.2,200.2 L324.9,200.9 L325.6,201.6 L326.3,202.3 L327.0,203.0 L327.7,203.7 L328.4,204.5 L329.0,205.3 L329.6,206.2 L330.2,207.0 L330.7,207.9 L331.3,208.8 L331.8,209.7 L332.3,210.7 L332.8,211.5 L333.2,212.3 L333.6,212.9 L334.0,213.6 L334.3,214.3 L334.6,214.9 L334.9,215.5 L336.0,220.5 L335.5,220.4 L334.7,220.3 L333.8,220.1 L333.0,219.8 L332.3,219.4 L331.7,219.0 L331.0,218.5 L330.3,218.0 L329.6,217.4 L328.8,216.8 L328.1,216.2 L327.3,215.6 L326.5,215.0 L325.7,214.3 L324.9,213.7 L324.0,213.0 L323.1,212.3 L322.1,211.5 L321.2,210.7 L320.2,210.0 L319.3,209.3 L318.3,208.6 L317.4,207.9 L316.4,207.2 L315.3,206.5 L314.2,205.8 L313.1,205.2 L312.0,204.6 L310.9,204.1 L309.8,203.6 L308.7,203.1 L307.6,202.8 L306.6,202.5 L305.7,202.4 L304.8,202.3 L303.8,202.2 L302.8,202.2 L301.8,202.2 L300.8,202.4 L299.8,202.6 L298.9,203.0 L298.0,203.5 L297.2,204.0 L296.5,204.5 L296.0,205.0 L295.6,205.6 L295.4,206.1 L295.2,206.5 Z" fill="#150604"/>
<path d="M286.3,208.5 L286.3,207.4 L286.4,205.8 L286.4,204.1 L286.5,202.5 L286.6,201.2 L286.6,200.0 L286.7,198.8 L286.9,197.6 L287.1,196.4 L287.3,195.3 L287.6,194.1 L288.0,193.0 L288.4,191.9 L288.9,190.9 L289.4,189.8 L290.0,188.8 L290.6,187.8 L291.3,186.8 L292.0,185.9 L292.8,185.0 L293.6,184.2 L294.5,183.3 L295.4,182.6 L296.3,181.9 L297.3,181.3 L298.3,180.8 L299.4,180.3 L300.5,179.9 L301.6,179.5 L302.8,179.2 L304.0,178.9 L305.1,178.8 L306.1,178.8 L307.1,178.9 L308.1,179.1 L309.0,179.3 L309.9,179.6 L310.9,179.9 L311.8,180.3 L312.7,180.7 L313.6,181.1 L314.6,181.6 L315.6,182.1 L316.5,182.6 L317.4,183.2 L318.4,183.8 L319.3,184.4 L320.2,185.1 L321.1,185.8 L321.9,186.5 L322.7,187.2 L323.5,188.0 L324.3,188.8 L325.0,189.7 L325.8,190.5 L326.5,191.4 L327.2,192.2 L328.0,193.0 L328.7,193.9 L329.4,194.7 L330.1,195.6 L330.8,196.5 L331.5,197.4 L332.1,198.3 L332.7,199.2 L333.3,200.0 L333.8,200.9 L334.4,201.7 L334.9,202.5 L335.4,203.4 L336.0,204.2 L336.5,205.0 L337.1,205.8 L337.7,206.6 L338.4,207.4 L339.0,208.3 L339.6,209.2 L340.3,210.1 L340.9,211.1 L341.5,212.0 L342.0,212.9 L342.6,213.7 L343.0,214.6 L343.5,215.5 L343.9,216.4 L344.3,217.4 L344.6,218.4 L345.0,219.5 L345.4,220.7 L345.9,221.9 L346.3,223.2 L346.7,224.5 L347.1,225.7 L347.4,226.9 L347.7,228.1 L348.0,229.4 L348.3,230.9 L348.6,232.6 L348.9,234.4 L349.1,236.0 L349.3,237.5 L349.5,238.9 L349.7,240.4 L349.9,242.0 L350.1,244.0 L350.2,246.4 L350.4,248.5 L350.5,250.0 L347.0,249.5 L346.8,248.6 L346.4,247.4 L346.0,245.9 L345.5,244.5 L344.9,243.1 L344.3,241.6 L343.7,240.1 L343.0,238.5 L342.4,236.9 L341.7,235.3 L341.0,233.6 L340.4,231.9 L339.8,230.1 L339.2,228.2 L338.6,226.4 L338.0,224.5 L337.4,222.6 L336.7,220.6 L336.1,218.7 L335.6,217.2 L335.2,216.2 L334.9,215.5 L334.6,214.9 L334.3,214.3 L334.0,213.6 L333.6,212.9 L333.2,212.3 L332.8,211.5 L332.3,210.7 L331.8,209.7 L331.3,208.8 L330.7,207.9 L330.2,207.0 L329.6,206.2 L329.0,205.3 L328.4,204.5 L327.7,203.7 L327.0,203.0 L326.3,202.3 L325.6,201.6 L324.9,200.9 L324.2,200.2 L323.4,199.5 L322.7,198.9 L321.9,198.3 L321.2,197.8 L320.4,197.4 L319.6,196.9 L318.8,196.4 L318.0,196.0 L317.2,195.5 L316.4,195.1 L315.5,194.6 L314.6,194.2 L313.6,193.7 L312.7,193.3 L311.7,192.9 L310.8,192.6 L309.8,192.2 L308.9,192.0 L308.1,191.8 L307.3,191.7 L306.5,191.6 L305.7,191.6 L304.9,191.6 L304.1,191.7 L303.3,191.8 L302.6,192.0 L301.9,192.3 L301.2,192.7 L300.5,193.1 L299.9,193.6 L299.3,194.1 L298.7,194.6 L298.1,195.2 L297.6,195.8 L297.2,196.4 L296.8,197.1 L296.4,197.7 L296.1,198.4 L295.8,199.1 L295.5,199.9 L295.3,200.6 L295.1,201.4 L295.0,202.1 L294.9,202.9 L294.9,203.7 L294.9,204.5 L294.9,205.5 L294.8,206.7 L294.8,207.8 L294.8,208.5 Z" fill="url(#gRingFace)"/>
<path d="M289.2,190.7 L289.7,189.7 L290.3,188.7 L290.9,187.7 L291.6,186.7 L292.3,185.7 L293.1,184.8 L293.9,184.0 L294.7,183.2 L295.6,182.4 L296.6,181.8 L297.6,181.2 L298.6,180.6 L299.7,180.2 L300.8,179.8 L301.9,179.4 L303.1,179.0 L304.2,178.8 L305.4,178.7 L306.4,178.6 L307.4,178.7 L308.3,178.9 L309.3,179.2 L310.2,179.4 L311.1,179.8 L312.0,180.1 L313.0,180.5 L313.9,181.0 L314.9,181.4 L315.8,181.9 L316.8,182.4 L317.7,183.0 L318.6,183.6 L319.6,184.3 L320.5,184.9 L321.3,185.6 L322.2,186.3 L323.0,187.1 L323.8,187.8 L324.5,188.7 L325.3,189.5 L326.0,190.4 L326.8,191.2 L327.5,192.1 L328.2,192.9 L329.0,193.7 L329.7,194.5 L330.4,195.4 L331.0,196.3 L331.7,197.3 L332.4,198.2" stroke="#cf9a84" stroke-width="1.1" fill="none" opacity="0.6"/><path d="M460.0,199.3 L460.3,199.5 L460.7,199.8 L461.2,200.1 L461.7,200.4 L462.3,200.8 L462.8,201.1 L463.4,201.4 L464.0,201.6 L464.6,201.8 L465.2,201.9 L465.8,202.0 L466.4,202.1 L467.1,202.1 L467.7,202.1 L468.4,202.1 L469.0,202.0 L469.6,201.9 L470.3,201.7 L470.9,201.5 L471.6,201.2 L472.2,200.9 L472.8,200.6 L473.4,200.2 L474.0,199.8 L474.6,199.3 L475.1,198.8 L475.6,198.2 L476.2,197.6 L476.7,197.0 L477.1,196.3 L477.6,195.7 L478.0,195.0 L478.4,194.3 L478.9,193.6 L479.3,192.9 L479.7,192.1 L480.1,191.4 L480.3,190.7 L480.5,190.0 L480.5,189.5 L480.4,189.0 L480.2,188.5 L480.0,188.0 L479.6,187.5 L479.1,187.2 L478.5,187.0 L477.8,186.9 L477.0,187.0 L475.9,187.4 L474.5,188.0 L472.9,188.9 L471.3,189.8 L469.6,190.8 L468.2,191.7 L466.9,192.5 L466.0,193.0 Z" fill="#1a0806"/>
<path d="M506.0,171.6 L506.5,171.7 L507.1,171.8 L507.8,171.9 L508.6,172.0 L509.4,172.2 L510.3,172.3 L511.2,172.3 L512.0,172.3 L512.8,172.2 L513.7,172.1 L514.6,172.0 L515.5,171.8 L516.4,171.6 L517.3,171.3 L518.1,171.1 L519.0,170.8 L519.9,170.5 L520.7,170.1 L521.6,169.8 L522.4,169.4 L523.2,168.9 L524.0,168.5 L524.8,168.1 L525.5,167.6 L526.2,167.1 L526.8,166.7 L527.4,166.2 L528.0,165.7 L528.5,165.1 L529.1,164.6 L529.5,164.1 L530.0,163.5 L530.4,162.9 L530.9,162.3 L531.3,161.6 L531.8,160.9 L532.1,160.2 L532.3,159.6 L532.5,159.0 L532.5,158.5 L532.4,158.0 L532.3,157.4 L532.0,156.9 L531.7,156.4 L531.3,156.0 L530.7,155.8 L529.9,155.7 L529.0,156.0 L527.7,156.6 L526.1,157.7 L524.2,158.9 L522.3,160.3 L520.3,161.8 L518.6,163.1 L517.1,164.2 L516.0,165.0 Z" fill="#1a0806"/>
<g clip-path="url(#bodyclip)"><path d="M404.3,106.3 L404.7,105.6 L405.2,104.9 L405.8,104.1 L406.4,103.4 L407.0,102.7 L407.6,102.0 L408.2,101.4 L408.8,100.9 L409.5,100.4 L410.2,99.9 L410.9,99.4 L411.7,98.9 L412.5,98.5 L413.3,98.1 L414.1,97.7 L414.9,97.4 L415.8,97.0 L416.7,96.8 L417.6,96.5 L418.6,96.3 L419.6,96.2 L420.6,96.0 L421.7,95.9 L422.7,95.8 L423.8,95.8 L424.8,95.8 L425.8,95.8 L426.8,95.9 L427.8,96.1 L428.8,96.2 L429.8,96.4 L430.9,96.7 L431.9,96.9 L432.9,97.3 L433.9,97.6 L434.9,98.0 L435.9,98.3 L436.9,98.8 L437.9,99.2 L438.9,99.7 L440.0,100.3 L441.0,100.8 L442.0,101.4 L443.0,102.0 L444.0,102.7 L445.0,103.3 L445.9,103.9 L446.8,104.6 L447.7,105.3 L448.6,106.0 L449.5,106.7 L450.4,107.5 L451.2,108.2 L452.1,109.0 L453.0,109.8 L453.8,110.7 L454.7,111.5 L455.6,112.5 L456.5,113.4 L457.5,114.4 L458.4,115.4 L459.3,116.5 L460.2,117.5 L461.1,118.6 L462.0,119.6 L462.8,120.6 L463.5,121.5 L464.2,122.5 L464.8,123.4 L465.4,124.3 L465.9,125.2 L466.4,126.0 L466.9,126.9 L467.3,127.7 L467.8,128.5 L468.2,129.3 L468.7,130.2 L469.2,130.9 L469.6,131.6 L470.0,132.2 L470.3,132.9 L470.7,133.5 L471.1,134.2 L471.5,134.9 L471.9,135.6 L472.3,136.5 L472.8,137.5 L473.3,138.5 L473.9,139.7 L474.5,141.0 L475.1,142.3 L475.7,143.7 L476.4,145.1 L477.0,146.5 L477.5,147.9 L478.0,149.3 L478.5,150.7 L478.9,152.0 L479.3,153.3 L479.6,154.7 L479.9,156.0 L480.2,157.4 L480.5,158.7 L480.7,160.0 L480.9,161.3 L481.1,162.6 L481.3,163.8 L481.5,165.1 L481.6,166.3 L481.7,167.4 L481.8,168.6 L481.9,169.7 L481.9,170.9 L481.9,172.0 L482.0,173.0 L481.9,174.1 L481.9,175.2 L481.8,176.2 L481.8,177.2 L481.7,178.2 L481.5,179.2 L481.4,180.2 L481.2,181.2 L481.0,182.1 L480.8,183.0 L480.6,183.8 L480.4,184.7 L480.2,185.4 L479.9,186.2 L479.7,186.9 L479.4,187.6 L479.1,188.2 L478.8,188.9 L478.5,189.5 L478.2,190.1 L477.8,190.6 L477.5,191.2 L477.2,191.7 L476.8,192.1 L476.4,192.6 L476.0,193.0 L475.6,193.3 L475.2,193.7 L474.9,194.1 L474.5,194.4 L474.1,194.7 L473.8,195.1 L473.5,195.4 L473.2,195.7 L472.9,196.0 L472.6,196.3 L472.3,196.6 L472.0,196.9 L471.8,197.1 L471.5,197.3 L471.4,197.5 L471.2,197.7" stroke="url(#gSh1)" stroke-width="6.5" fill="none" stroke-linecap="round"/></g><g clip-path="url(#bodyclip)"><path d="M450.9,131.8 L451.4,132.6 L451.9,133.4 L452.3,134.2 L452.8,135.1 L453.2,135.8 L453.5,136.6 L453.8,137.3 L454.2,138.0 L454.5,138.8 L454.8,139.6 L455.2,140.5 L455.6,141.4 L456.1,142.4 L456.7,143.6 L457.3,144.8 L458.0,146.0 L458.7,147.4 L459.4,148.7 L460.2,150.1 L460.9,151.5 L461.5,152.9 L462.2,154.3 L462.7,155.7 L463.2,157.0 L463.7,158.3 L464.2,159.7 L464.6,161.0 L465.0,162.4 L465.3,163.7 L465.7,165.0 L466.0,166.3 L466.3,167.6 L466.5,168.8 L466.8,170.1 L467.0,171.3 L467.2,172.5 L467.3,173.6 L467.4,174.8 L467.6,175.9 L467.6,177.0 L467.7,178.1 L467.8,179.2 L467.8,180.2 L467.9,181.3 L467.9,182.3 L467.9,183.3 L467.9,184.3 L467.8,185.2 L467.8,186.2 L467.7,187.1 L467.6,188.0 L467.5,188.8 L467.4,189.7 L467.3,190.4 L467.2,191.2 L467.0,191.9 L466.8,192.6 L466.6,193.3 L466.4,193.9 L466.2,194.5 L466.0,195.1 L465.8,195.7 L465.5,196.2 L465.3,196.8 L465.0,197.3 L464.7,197.7 L464.5,198.1 L464.2,198.6 L463.9,198.9 L463.6,199.3 L463.3,199.6 L463.1,200.0 L462.8,200.2 L462.6,200.5 L462.4,200.8 L462.2,201.0 L462.1,201.2 L461.9,201.4 L461.8,201.6 L461.6,201.7 L461.5,201.8 L461.4,202.0 L461.3,202.1" stroke="url(#gSh1f)" stroke-width="5" fill="none"/></g><path d="M399.5,112.4 L400.0,112.1 L400.6,111.7 L401.3,111.2 L402.1,110.7 L403.0,110.2 L403.9,109.6 L404.8,109.1 L405.7,108.6 L406.5,108.1 L407.3,107.8 L408.1,107.4 L408.8,107.1 L409.6,106.9 L410.3,106.6 L411.0,106.4 L411.8,106.2 L412.5,106.1 L413.3,105.9 L414.0,105.8 L414.8,105.8 L415.7,105.7 L416.5,105.7 L417.4,105.6 L418.3,105.7 L419.2,105.7 L420.1,105.8 L421.0,105.9 L421.9,106.0 L422.8,106.2 L423.6,106.4 L424.5,106.6 L425.4,106.8 L426.3,107.1 L427.2,107.4 L428.0,107.8 L428.9,108.2 L429.8,108.6 L430.7,109.0 L431.6,109.5 L432.4,110.0 L433.3,110.5 L434.2,111.0 L435.1,111.5 L436.0,112.1 L436.9,112.7 L437.8,113.4 L438.7,114.0 L439.6,114.7 L440.4,115.4 L441.2,116.2 L442.1,116.9 L442.9,117.7 L443.6,118.6 L444.4,119.5 L445.2,120.4 L445.9,121.3 L446.7,122.2 L447.4,123.1 L448.1,124.0 L448.7,124.9 L449.4,125.7 L450.0,126.5 L450.6,127.4 L451.2,128.2 L451.7,129.0 L452.3,129.9 L452.8,130.7 L453.3,131.5 L453.8,132.3 L454.2,133.2 L454.7,134.0 L455.1,134.7 L455.4,135.5 L455.7,136.2 L456.1,136.9 L456.4,137.7 L456.7,138.5 L457.1,139.4 L457.6,140.3 L458.0,141.3 L458.6,142.5 L459.2,143.7 L459.9,144.9 L460.6,146.3 L461.3,147.6 L462.1,149.0 L462.8,150.4 L463.5,151.8 L464.1,153.2 L464.6,154.6 L465.1,155.9 L465.6,157.2 L466.1,158.6 L466.5,159.9 L466.9,161.3 L467.2,162.6 L467.6,163.9 L467.9,165.2 L468.2,166.5 L468.4,167.8 L468.7,169.0 L468.9,170.2 L469.1,171.4 L469.2,172.5 L469.4,173.7 L469.5,174.8 L469.6,175.9 L469.6,177.0 L469.7,178.1 L469.7,179.2 L469.8,180.2 L469.8,181.2 L469.8,182.2 L469.8,183.2 L469.7,184.2 L469.7,185.1 L469.6,186.0 L469.5,186.9 L469.4,187.7 L469.3,188.6 L469.2,189.3 L469.1,190.1 L468.9,190.8 L468.7,191.5 L468.5,192.2 L468.3,192.8 L468.1,193.4 L467.9,194.0 L467.7,194.6 L467.4,195.2 L467.2,195.7 L466.9,196.2 L466.7,196.6 L466.4,197.0 L466.1,197.5 L465.8,197.8 L465.5,198.2 L465.2,198.5 L465.0,198.9 L464.7,199.2 L464.5,199.4 L464.3,199.7 L464.2,199.9 L464.0,200.1 L463.8,200.3 L463.7,200.5 L463.5,200.6 L463.4,200.7 L463.3,200.9 L463.2,201.0 L468.3,199.3 L468.4,199.2 L468.6,199.0 L468.8,198.8 L469.1,198.6 L469.3,198.3 L469.6,198.0 L469.9,197.7 L470.2,197.4 L470.5,197.1 L470.9,196.8 L471.2,196.4 L471.5,196.1 L471.9,195.8 L472.3,195.4 L472.7,195.0 L473.1,194.7 L473.5,194.3 L473.9,193.8 L474.2,193.4 L474.6,192.8 L474.9,192.3 L475.2,191.8 L475.5,191.2 L475.8,190.6 L476.1,189.9 L476.4,189.3 L476.7,188.6 L477.0,187.9 L477.2,187.1 L477.5,186.3 L477.7,185.5 L477.9,184.7 L478.1,183.8 L478.3,182.9 L478.4,181.9 L478.6,180.9 L478.7,179.9 L478.8,178.9 L478.9,177.9 L479.0,176.8 L479.0,175.8 L479.0,174.7 L479.0,173.7 L479.0,172.6 L478.9,171.4 L478.9,170.3 L478.8,169.1 L478.7,168.0 L478.5,166.8 L478.4,165.5 L478.2,164.3 L478.0,163.0 L477.8,161.7 L477.5,160.4 L477.3,159.1 L477.0,157.7 L476.7,156.4 L476.3,155.0 L476.0,153.7 L475.6,152.3 L475.1,151.0 L474.6,149.6 L474.0,148.2 L473.4,146.8 L472.8,145.4 L472.2,144.0 L471.5,142.7 L470.9,141.4 L470.4,140.2 L469.9,139.2 L469.4,138.2 L469.0,137.3 L468.5,136.6 L468.2,135.9 L467.8,135.2 L467.4,134.6 L467.0,133.9 L466.6,133.3 L466.2,132.6 L465.8,131.8 L465.3,131.0 L464.8,130.2 L464.4,129.4 L463.9,128.6 L463.5,127.7 L463.0,126.9 L462.4,126.0 L461.8,125.1 L461.2,124.2 L460.6,123.2 L459.8,122.3 L459.0,121.3 L458.2,120.3 L457.3,119.2 L456.4,118.2 L455.5,117.1 L454.5,116.1 L453.6,115.1 L452.7,114.2 L451.8,113.2 L450.9,112.4 L450.0,111.5 L449.2,110.7 L448.3,109.9 L447.4,109.2 L446.6,108.4 L445.7,107.7 L444.8,107.0 L443.9,106.3 L443.0,105.6 L442.0,105.0 L441.0,104.4 L440.1,103.7 L439.1,103.1 L438.0,102.5 L437.0,102.0 L436.0,101.4 L435.0,100.9 L434.0,100.5 L433.0,100.0 L432.0,99.7 L430.9,99.3 L429.9,99.0 L428.9,98.6 L427.9,98.4 L426.9,98.1 L425.9,97.9 L424.9,97.8 L423.9,97.6 L422.9,97.5 L421.8,97.5 L420.8,97.5 L419.8,97.5 L418.7,97.6 L417.7,97.7 L416.7,97.9 L415.7,98.0 L414.7,98.2 L413.8,98.5 L412.9,98.8 L412.0,99.1 L411.1,99.4 L410.3,99.8 L409.5,100.2 L408.7,100.6 L408.0,101.1 L407.3,101.6 L406.6,102.1 L405.9,102.6 L405.3,103.1 L404.6,103.7 L404.0,104.4 L403.4,105.1 L402.8,105.8 L402.3,106.6 L401.8,107.3 L401.3,108.0 L400.9,108.6 L400.5,109.1 L400.3,109.4 Z" fill="url(#gO1)"/><path d="M400.1,112.1 L400.5,111.8 L401.1,111.4 L401.8,110.9 L402.6,110.4 L403.5,109.9 L404.4,109.3 L405.3,108.8 L406.2,108.3 L407.1,107.8 L407.9,107.5 L408.6,107.1 L409.4,106.8 L410.1,106.6 L410.8,106.3 L411.5,106.1 L412.3,105.9 L413.0,105.8 L413.8,105.6 L414.6,105.5 L415.4,105.5 L416.2,105.4 L417.0,105.4 L417.9,105.3 L418.8,105.4 L419.7,105.4 L420.6,105.5 L421.5,105.6 L422.4,105.7 L423.3,105.9 L424.2,106.1 L425.0,106.3 L425.9,106.5 L426.8,106.8 L427.7,107.1 L428.6,107.5 L429.4,107.9 L430.3,108.3 L431.2,108.7 L432.1,109.2 L433.0,109.7 L433.8,110.2 L434.7,110.7 L435.6,111.2 L436.5,111.8 L437.4,112.4 L438.3,113.1 L439.2,113.7 L440.1,114.4 L440.9,115.1 L441.8,115.9 L442.6,116.6 L443.4,117.4 L444.2,118.3 L444.9,119.2 L445.7,120.1 L446.5,121.0 L447.2,121.9 L447.9,122.8 L448.6,123.7 L449.3,124.6 L449.9,125.4 L450.5,126.2 L451.1,127.1 L451.7,127.9 L452.2,128.7 L452.8,129.6 L453.3,130.4 L453.8,131.2 L454.3,132.0 L454.8,132.8 L455.2,133.7 L455.6,134.4 L455.9,135.2 L456.3,135.9 L456.6,136.6 L456.9,137.4 L457.3,138.2 L457.6,139.1 L458.1,140.0 L458.6,141.0 L459.1,142.2 L459.7,143.4 L460.4,144.6 L461.1,146.0 L461.9,147.3 L462.6,148.7 L463.3,150.1 L464.0,151.5 L464.6,152.9 L465.2,154.2 L465.7,155.6 L466.1,156.9 L466.6,158.3 L467.0,159.6 L467.4,161.0 L467.8,162.3 L468.1,163.6 L468.4,164.9 L468.7,166.2 L469.0,167.4 L469.2,168.7 L469.4,169.9 L469.6,171.1 L469.7,172.2 L469.9,173.4 L470.0,174.5 L470.1,175.6 L470.1,176.7 L470.2,177.8 L470.3,178.8 L470.3,179.9 L470.3,180.9 L470.3,181.9 L470.3,182.9 L470.3,183.8 L470.2,184.8 L470.1,185.7 L470.1,186.6 L470.0,187.4 L469.9,188.2 L469.7,189.0 L469.6,189.8 L469.4,190.5 L469.2,191.2 L469.1,191.9 L468.8,192.5 L468.6,193.1 L468.4,193.7 L468.2,194.3 L468.0,194.8 L467.7,195.4 L467.5,195.9 L467.2,196.3 L466.9,196.7 L466.6,197.2 L466.3,197.5 L466.0,197.9 L465.7,198.2 L465.5,198.6 L465.3,198.8 L465.1,199.1 L464.9,199.4 L464.7,199.6 L464.5,199.8 L464.3,200.0 L464.2,200.2 L464.1,200.3 L463.9,200.4 L463.8,200.6 L463.8,200.7" stroke="#98160a" stroke-width="1.8" fill="none" opacity="0.6"/><path d="M399.9,109.6 L400.2,109.3 L400.6,108.8 L401.0,108.2 L401.4,107.5 L401.9,106.8 L402.5,106.0 L403.1,105.3 L403.7,104.6 L404.3,103.9 L404.9,103.3 L405.6,102.8 L406.2,102.3 L406.9,101.8 L407.7,101.3 L408.4,100.8 L409.2,100.4 L410.0,100.0 L410.8,99.6 L411.6,99.3 L412.5,99.0 L413.4,98.7 L414.4,98.4 L415.3,98.2 L416.3,98.1 L417.4,97.9 L418.4,97.8 L419.4,97.7 L420.5,97.7 L421.5,97.7 L422.5,97.8 L423.5,97.8 L424.5,98.0 L425.5,98.1 L426.6,98.3 L427.6,98.6 L428.6,98.8 L429.6,99.2 L430.6,99.5 L431.6,99.9 L432.6,100.2 L433.6,100.7 L434.6,101.1 L435.7,101.6 L436.7,102.2 L437.7,102.7 L438.7,103.3 L439.7,103.9 L440.7,104.6 L441.7,105.2 L442.6,105.8 L443.5,106.5 L444.5,107.2 L445.3,107.9 L446.2,108.6 L447.1,109.4 L448.0,110.1 L448.8,110.9 L449.7,111.7 L450.5,112.6 L451.4,113.5 L452.3,114.4 L453.2,115.3 L454.2,116.3 L455.1,117.3 L456.0,118.4 L457.0,119.4 L457.8,120.5 L458.7,121.5 L459.5,122.5 L460.2,123.5 L460.9,124.4 L461.5,125.3 L462.1,126.2 L462.6,127.1 L463.1,127.9 L463.6,128.8 L464.0,129.6 L464.5,130.4 L465.0,131.2 L465.4,132.0 L465.9,132.8 L466.3,133.5 L466.7,134.1 L467.1,134.8 L467.4,135.4 L467.8,136.1 L468.2,136.8 L468.6,137.5 L469.0,138.4 L469.5,139.3 L470.0,140.4 L470.6,141.6 L471.2,142.9 L471.8,144.2 L472.4,145.6 L473.1,147.0 L473.7,148.4 L474.2,149.8 L474.8,151.2 L475.2,152.5 L475.6,153.9 L476.0,155.2 L476.3,156.6 L476.6,157.9 L476.9,159.3 L477.2,160.6 L477.4,161.9 L477.6,163.2 L477.8,164.5 L478.0,165.7 L478.2,167.0 L478.3,168.2 L478.4,169.3 L478.5,170.5 L478.6,171.6 L478.6,172.8 L478.7,173.9 L478.7,174.9 L478.6,176.0 L478.6,177.0 L478.6,178.1 L478.5,179.1 L478.4,180.1 L478.2,181.1 L478.1,182.1 L477.9,183.1 L477.7,184.0 L477.5,184.9 L477.3,185.7 L477.1,186.5 L476.9,187.3 L476.6,188.1 L476.4,188.8 L476.1,189.5 L475.8,190.1 L475.5,190.8 L475.2,191.4 L474.9,192.0 L474.5,192.5 L474.2,193.0 L473.9,193.6 L473.5,194.0 L473.1,194.5 L472.7,194.9 L472.3,195.2 L472.0,195.6 L471.6,196.0 L471.2,196.3 L470.8,196.6 L470.5,196.9 L470.2,197.3 L469.9,197.6 L469.6,197.9 L469.3,198.2 L469.0,198.5 L468.7,198.8 L468.5,199.0 L468.2,199.2 L468.1,199.4 L467.9,199.5" stroke="#a81c0e" stroke-width="1.2" fill="none" opacity="0.5"/><path d="M401.4,109.7 L402.0,109.2 L402.6,108.6 L403.3,108.0 L404.0,107.3 L404.8,106.7 L405.5,106.1 L406.3,105.5 L407.0,105.0 L407.7,104.6 L408.4,104.2 L409.1,103.8 L409.8,103.5 L410.6,103.1 L411.7,102.6 L412.5,102.3 L413.3,102.1 L414.1,101.9 L415.0,101.7 L415.9,101.6 L416.8,101.4 L417.7,101.4 L418.7,101.3 L419.6,101.3 L420.6,101.3 L421.6,101.3 L422.5,101.4 L423.5,101.5 L424.4,101.6 L425.9,101.9 L426.8,102.1 L427.8,102.4 L428.7,102.6 L429.7,103.0 L430.6,103.3 L431.6,103.7 L432.5,104.1 L433.5,104.6 L434.4,105.0 L435.4,105.5 L436.3,106.1 L437.3,106.6 L438.2,107.2 L439.2,107.8 L440.6,108.8 L441.5,109.4 L442.4,110.1 L443.3,110.8 L444.2,111.5 L445.0,112.3 L445.8,113.1 L446.7,113.9 L447.5,114.7 L448.3,115.6 L449.1,116.4 L449.9,117.3 L450.7,118.2 L451.5,119.2 L452.3,120.1 L453.6,121.5 L454.3,122.5 L455.1,123.4 L455.8,124.4 L456.5,125.3 L457.1,126.2 L457.7,127.0 L458.3,127.9 L458.8,128.7 L459.3,129.6 L459.8,130.4 L460.2,131.2 L460.6,132.0 L461.0,132.8 L461.4,133.6 L462.0,134.8 L462.4,135.5 L462.8,136.3 L463.2,137.1 L463.6,137.9 L464.1,138.8 L464.6,139.7 L465.1,140.7 L465.7,141.8 L466.3,143.0 L466.9,144.2 L467.6,145.5 L468.2,146.9 L468.8,148.2 L469.4,149.6 L470.3,151.6 L470.8,153.0 L471.3,154.4 L471.7,155.7 L472.1,157.1 L472.5,158.4 L472.8,159.7 L473.1,161.1 L473.4,162.4 L473.7,163.7 L473.9,165.0 L474.1,166.2 L474.3,167.4 L474.5,168.6" stroke="#ff5438" stroke-width="2.2" fill="none" opacity="0.5" stroke-linecap="round"/>
<g clip-path="url(#bodyclip)"><path d="M461.1,74.8 L461.5,74.1 L462.0,73.4 L462.5,72.6 L463.0,71.9 L463.5,71.2 L464.0,70.5 L464.6,69.9 L465.2,69.4 L465.8,68.9 L466.4,68.4 L467.1,68.0 L467.8,67.5 L468.5,67.1 L469.2,66.7 L470.0,66.3 L470.7,65.9 L471.5,65.5 L472.3,65.2 L473.1,64.9 L474.0,64.6 L474.8,64.3 L475.7,64.0 L476.6,63.7 L477.5,63.5 L478.4,63.3 L479.4,63.2 L480.3,63.0 L481.3,63.0 L482.2,62.9 L483.2,62.9 L484.3,62.9 L485.3,62.9 L486.3,63.0 L487.3,63.1 L488.4,63.2 L489.4,63.4 L490.4,63.6 L491.4,63.9 L492.4,64.2 L493.4,64.6 L494.5,65.0 L495.5,65.5 L496.5,65.9 L497.5,66.4 L498.5,66.9 L499.5,67.5 L500.4,68.0 L501.3,68.6 L502.2,69.2 L503.1,69.8 L504.0,70.5 L504.9,71.1 L505.7,71.8 L506.6,72.6 L507.5,73.3 L508.3,74.1 L509.2,74.9 L510.1,75.8 L511.0,76.7 L511.9,77.7 L512.8,78.7 L513.7,79.7 L514.6,80.7 L515.4,81.8 L516.3,82.9 L517.2,83.9 L518.0,85.0 L518.8,86.2 L519.6,87.3 L520.4,88.5 L521.2,89.7 L522.0,91.0 L522.7,92.2 L523.5,93.4 L524.3,94.7 L525.0,95.9 L525.8,97.1 L526.6,98.4 L527.4,99.6 L528.2,100.8 L529.1,102.0 L529.9,103.2 L530.7,104.5 L531.5,105.7 L532.2,106.9 L532.9,108.2 L533.6,109.4 L534.2,110.7 L534.8,112.0 L535.3,113.3 L535.8,114.7 L536.3,116.0 L536.8,117.3 L537.2,118.7 L537.6,120.0 L538.0,121.3 L538.3,122.6 L538.6,124.0 L538.9,125.3 L539.2,126.7 L539.4,128.0 L539.6,129.4 L539.8,130.7 L539.9,132.0 L540.1,133.3 L540.1,134.6 L540.2,135.8 L540.2,137.1 L540.2,138.3 L540.2,139.5 L540.1,140.7 L540.0,141.8 L539.9,143.0 L539.7,144.1 L539.6,145.2 L539.4,146.2 L539.2,147.2 L539.0,148.1 L538.8,148.9 L538.6,149.8 L538.3,150.5 L538.0,151.3 L537.7,152.0 L537.4,152.7 L537.1,153.4 L536.8,154.1 L536.4,154.8 L536.0,155.4 L535.6,156.1 L535.1,156.7 L534.6,157.3 L534.1,157.9 L533.6,158.4 L533.1,159.0 L532.6,159.5 L532.1,160.0 L531.7,160.5 L531.3,160.9 L530.9,161.3 L530.5,161.7 L530.0,162.1 L529.7,162.4 L529.3,162.7 L529.0,163.0 L528.7,163.3 L528.4,163.5 L528.2,163.7" stroke="url(#gSh2)" stroke-width="6.5" fill="none" stroke-linecap="round"/></g><g clip-path="url(#bodyclip)"><path d="M506.0,95.6 L506.6,96.8 L507.3,98.0 L508.0,99.2 L508.8,100.6 L509.6,102.0 L510.4,103.5 L511.3,105.1 L512.1,106.7 L512.9,108.3 L513.8,109.9 L514.5,111.5 L515.3,113.0 L515.9,114.5 L516.5,115.9 L517.1,117.2 L517.6,118.6 L518.1,119.9 L518.6,121.2 L519.0,122.5 L519.5,123.8 L519.9,125.0 L520.3,126.3 L520.6,127.7 L521.0,129.0 L521.4,130.3 L521.7,131.7 L522.0,133.0 L522.3,134.4 L522.6,135.7 L522.9,137.0 L523.1,138.3 L523.4,139.6 L523.5,140.8 L523.7,142.1 L523.8,143.3 L523.9,144.5 L524.0,145.7 L524.0,146.9 L524.0,148.1 L524.0,149.2 L524.0,150.2 L524.0,151.3 L524.0,152.2 L524.0,153.2 L524.0,154.0 L524.0,154.9 L524.0,155.7 L523.9,156.4 L523.9,157.1 L523.8,157.8 L523.7,158.5 L523.6,159.1 L523.5,159.8 L523.4,160.3 L523.3,160.9 L523.1,161.4 L522.9,161.9 L522.7,162.4 L522.5,162.8 L522.3,163.2 L522.1,163.6 L521.8,164.0 L521.6,164.4 L521.4,164.8 L521.2,165.2 L520.9,165.6 L520.7,166.0 L520.5,166.3 L520.2,166.6 L520.0,166.9 L519.8,167.2 L519.5,167.5 L519.3,167.8 L519.1,168.0 L519.0,168.2 L518.8,168.4 L518.6,168.6 L518.4,168.7 L518.3,168.8 L518.1,169.0 L518.0,169.1 L517.9,169.2 L517.8,169.2" stroke="url(#gSh2f)" stroke-width="5" fill="none"/></g><path d="M456.1,81.2 L456.5,80.8 L457.1,80.4 L457.7,79.9 L458.4,79.4 L459.1,78.8 L459.9,78.2 L460.7,77.6 L461.5,77.1 L462.3,76.6 L463.0,76.2 L463.8,75.8 L464.5,75.4 L465.2,75.1 L465.9,74.8 L466.7,74.5 L467.4,74.2 L468.2,74.0 L468.9,73.7 L469.7,73.5 L470.5,73.4 L471.4,73.2 L472.2,73.0 L473.1,72.9 L474.0,72.8 L474.9,72.7 L475.8,72.7 L476.7,72.6 L477.6,72.6 L478.5,72.7 L479.3,72.8 L480.2,72.9 L481.1,73.0 L482.0,73.2 L482.9,73.4 L483.8,73.6 L484.7,73.9 L485.6,74.1 L486.5,74.5 L487.3,74.8 L488.1,75.2 L488.9,75.5 L489.7,75.9 L490.5,76.4 L491.3,76.8 L492.0,77.3 L492.8,77.9 L493.5,78.4 L494.2,79.0 L495.0,79.5 L495.7,80.2 L496.5,80.8 L497.3,81.4 L498.0,82.1 L498.8,82.8 L499.5,83.5 L500.3,84.2 L501.1,85.0 L501.8,85.8 L502.5,86.7 L503.2,87.6 L503.9,88.5 L504.6,89.4 L505.3,90.3 L505.9,91.3 L506.6,92.4 L507.2,93.4 L507.9,94.5 L508.5,95.7 L509.2,96.9 L509.9,98.2 L510.7,99.5 L511.5,100.9 L512.3,102.4 L513.2,104.0 L514.0,105.6 L514.9,107.2 L515.7,108.8 L516.4,110.4 L517.2,111.9 L517.8,113.4 L518.4,114.8 L519.0,116.1 L519.5,117.5 L520.0,118.8 L520.5,120.1 L520.9,121.4 L521.4,122.7 L521.8,123.9 L522.2,125.2 L522.5,126.6 L522.9,127.9 L523.3,129.2 L523.6,130.6 L523.9,131.9 L524.3,133.3 L524.5,134.6 L524.8,135.9 L525.0,137.2 L525.3,138.5 L525.4,139.8 L525.6,141.0 L525.7,142.2 L525.8,143.4 L525.9,144.6 L525.9,145.8 L525.9,147.0 L525.9,148.1 L525.9,149.1 L525.9,150.2 L525.9,151.2 L525.9,152.1 L525.9,152.9 L525.9,153.8 L525.9,154.6 L525.8,155.3 L525.8,156.0 L525.7,156.7 L525.6,157.4 L525.6,158.0 L525.4,158.7 L525.3,159.2 L525.2,159.8 L525.0,160.3 L524.8,160.8 L524.6,161.3 L524.4,161.7 L524.2,162.1 L524.0,162.5 L523.8,162.9 L523.5,163.3 L523.3,163.7 L523.1,164.1 L522.9,164.5 L522.6,164.9 L522.4,165.2 L522.1,165.5 L521.9,165.8 L521.7,166.1 L521.4,166.4 L521.2,166.7 L521.1,166.9 L520.9,167.1 L520.7,167.3 L520.5,167.5 L520.3,167.6 L520.2,167.7 L520.1,167.9 L519.9,168.0 L519.8,168.1 L519.7,168.2 L525.3,165.3 L525.5,165.2 L525.7,165.0 L526.0,164.7 L526.4,164.4 L526.7,164.1 L527.1,163.8 L527.5,163.4 L527.9,163.0 L528.3,162.6 L528.8,162.2 L529.2,161.7 L529.7,161.2 L530.1,160.7 L530.6,160.1 L531.2,159.6 L531.7,159.0 L532.2,158.4 L532.6,157.8 L533.1,157.1 L533.5,156.4 L533.8,155.8 L534.2,155.1 L534.5,154.4 L534.8,153.7 L535.1,153.0 L535.4,152.2 L535.6,151.5 L535.8,150.6 L536.1,149.8 L536.3,148.8 L536.4,147.9 L536.6,146.9 L536.8,145.8 L536.9,144.7 L537.1,143.5 L537.2,142.4 L537.2,141.2 L537.3,140.0 L537.3,138.8 L537.3,137.5 L537.2,136.3 L537.1,135.0 L537.0,133.7 L536.8,132.4 L536.7,131.1 L536.5,129.7 L536.2,128.4 L536.0,127.0 L535.7,125.7 L535.4,124.3 L535.0,123.0 L534.6,121.7 L534.3,120.4 L533.8,119.0 L533.4,117.7 L532.9,116.4 L532.4,115.0 L531.8,113.7 L531.3,112.4 L530.7,111.1 L530.0,109.9 L529.3,108.6 L528.5,107.4 L527.8,106.2 L527.0,104.9 L526.1,103.7 L525.3,102.5 L524.5,101.3 L523.7,100.1 L522.9,98.8 L522.1,97.6 L521.3,96.4 L520.6,95.1 L519.8,93.9 L519.0,92.7 L518.3,91.4 L517.5,90.2 L516.7,89.0 L515.9,87.9 L515.1,86.8 L514.2,85.6 L513.4,84.6 L512.5,83.5 L511.6,82.4 L510.7,81.4 L509.8,80.4 L508.9,79.4 L508.0,78.4 L507.1,77.5 L506.3,76.6 L505.4,75.8 L504.5,75.0 L503.7,74.3 L502.8,73.5 L501.9,72.8 L501.1,72.2 L500.2,71.5 L499.3,70.9 L498.4,70.3 L497.5,69.8 L496.5,69.2 L495.5,68.6 L494.6,68.1 L493.6,67.6 L492.5,67.2 L491.5,66.7 L490.5,66.3 L489.5,65.9 L488.5,65.6 L487.5,65.3 L486.4,65.1 L485.4,64.9 L484.4,64.8 L483.4,64.7 L482.3,64.6 L481.3,64.6 L480.3,64.6 L479.3,64.6 L478.3,64.7 L477.4,64.8 L476.4,64.9 L475.5,65.0 L474.6,65.2 L473.7,65.4 L472.8,65.7 L471.9,66.0 L471.0,66.3 L470.2,66.6 L469.4,66.9 L468.6,67.2 L467.8,67.6 L467.0,68.0 L466.3,68.4 L465.5,68.8 L464.8,69.2 L464.1,69.7 L463.5,70.1 L462.8,70.6 L462.2,71.1 L461.7,71.6 L461.1,72.2 L460.5,72.9 L460.0,73.6 L459.5,74.3 L459.0,75.1 L458.6,75.8 L458.2,76.5 L457.8,77.1 L457.5,77.6 L457.3,77.9 Z" fill="url(#gO2)"/><path d="M456.7,80.9 L457.1,80.5 L457.6,80.1 L458.2,79.6 L458.9,79.1 L459.6,78.5 L460.4,77.9 L461.2,77.3 L462.0,76.8 L462.8,76.3 L463.6,75.9 L464.3,75.5 L465.0,75.1 L465.7,74.8 L466.5,74.5 L467.2,74.2 L467.9,73.9 L468.7,73.7 L469.5,73.4 L470.3,73.2 L471.1,73.1 L471.9,72.9 L472.7,72.7 L473.6,72.6 L474.5,72.5 L475.4,72.4 L476.3,72.4 L477.2,72.3 L478.1,72.3 L479.0,72.4 L479.9,72.5 L480.7,72.6 L481.6,72.7 L482.5,72.9 L483.4,73.1 L484.3,73.3 L485.2,73.6 L486.1,73.8 L487.0,74.2 L487.8,74.5 L488.7,74.9 L489.5,75.2 L490.3,75.6 L491.0,76.1 L491.8,76.5 L492.5,77.0 L493.3,77.6 L494.0,78.1 L494.8,78.7 L495.5,79.2 L496.3,79.9 L497.0,80.5 L497.8,81.1 L498.5,81.8 L499.3,82.5 L500.1,83.2 L500.8,83.9 L501.6,84.7 L502.3,85.5 L503.0,86.4 L503.8,87.3 L504.5,88.2 L505.1,89.1 L505.8,90.0 L506.4,91.0 L507.1,92.1 L507.7,93.1 L508.4,94.2 L509.1,95.4 L509.7,96.6 L510.5,97.9 L511.2,99.2 L512.0,100.6 L512.8,102.1 L513.7,103.7 L514.5,105.3 L515.4,106.9 L516.2,108.5 L517.0,110.1 L517.7,111.6 L518.4,113.1 L519.0,114.5 L519.5,115.8 L520.1,117.2 L520.6,118.5 L521.0,119.8 L521.5,121.1 L521.9,122.4 L522.3,123.6 L522.7,124.9 L523.1,126.3 L523.4,127.6 L523.8,128.9 L524.1,130.3 L524.5,131.6 L524.8,133.0 L525.1,134.3 L525.3,135.6 L525.6,136.9 L525.8,138.2 L526.0,139.4 L526.1,140.7 L526.2,141.9 L526.3,143.1 L526.4,144.3 L526.4,145.5 L526.4,146.7 L526.5,147.8 L526.5,148.8 L526.5,149.9 L526.5,150.8 L526.5,151.8 L526.4,152.6 L526.4,153.5 L526.4,154.3 L526.4,155.0 L526.3,155.7 L526.2,156.4 L526.2,157.1 L526.1,157.7 L526.0,158.3 L525.8,158.9 L525.7,159.5 L525.5,160.0 L525.3,160.5 L525.1,161.0 L524.9,161.4 L524.7,161.8 L524.5,162.2 L524.3,162.6 L524.1,163.0 L523.8,163.4 L523.6,163.8 L523.4,164.2 L523.1,164.6 L522.9,164.9 L522.6,165.2 L522.4,165.5 L522.2,165.8 L522.0,166.1 L521.8,166.3 L521.6,166.6 L521.4,166.8 L521.2,167.0 L521.0,167.2 L520.9,167.3 L520.7,167.4 L520.6,167.6 L520.5,167.7 L520.3,167.8 L520.3,167.8" stroke="#98160a" stroke-width="1.8" fill="none" opacity="0.6"/><path d="M456.9,78.1 L457.2,77.8 L457.5,77.3 L457.8,76.7 L458.2,76.0 L458.7,75.3 L459.2,74.5 L459.7,73.8 L460.2,73.1 L460.8,72.4 L461.3,71.8 L461.9,71.3 L462.5,70.8 L463.1,70.3 L463.8,69.9 L464.5,69.4 L465.2,69.0 L465.9,68.6 L466.7,68.2 L467.4,67.8 L468.2,67.5 L469.0,67.1 L469.8,66.8 L470.7,66.5 L471.5,66.2 L472.4,65.9 L473.3,65.6 L474.2,65.4 L475.1,65.2 L476.1,65.1 L477.0,65.0 L478.0,64.9 L479.0,64.8 L480.0,64.8 L481.0,64.8 L482.0,64.8 L483.0,64.9 L484.0,65.0 L485.1,65.1 L486.1,65.3 L487.1,65.5 L488.1,65.8 L489.1,66.1 L490.2,66.5 L491.2,66.9 L492.2,67.4 L493.2,67.8 L494.2,68.3 L495.2,68.8 L496.2,69.4 L497.1,70.0 L498.0,70.5 L499.0,71.1 L499.8,71.7 L500.7,72.4 L501.6,73.0 L502.5,73.7 L503.3,74.5 L504.2,75.2 L505.0,76.0 L505.9,76.8 L506.8,77.7 L507.7,78.6 L508.6,79.6 L509.5,80.6 L510.4,81.6 L511.3,82.6 L512.1,83.7 L513.0,84.8 L513.9,85.8 L514.7,87.0 L515.5,88.1 L516.3,89.2 L517.1,90.4 L517.9,91.6 L518.7,92.9 L519.4,94.1 L520.2,95.3 L521.0,96.6 L521.7,97.8 L522.5,99.0 L523.3,100.3 L524.1,101.5 L525.0,102.7 L525.8,103.9 L526.6,105.1 L527.4,106.4 L528.2,107.6 L529.0,108.8 L529.7,110.1 L530.3,111.3 L530.9,112.6 L531.5,113.9 L532.0,115.2 L532.6,116.6 L533.0,117.9 L533.5,119.2 L533.9,120.6 L534.3,121.9 L534.7,123.2 L535.0,124.5 L535.3,125.9 L535.6,127.2 L535.9,128.6 L536.1,129.9 L536.3,131.3 L536.5,132.6 L536.6,133.9 L536.8,135.2 L536.9,136.5 L536.9,137.7 L536.9,139.0 L536.9,140.2 L536.9,141.4 L536.8,142.6 L536.7,143.7 L536.6,144.9 L536.4,146.0 L536.3,147.1 L536.1,148.1 L535.9,149.0 L535.7,150.0 L535.5,150.8 L535.3,151.7 L535.0,152.4 L534.7,153.2 L534.5,153.9 L534.1,154.6 L533.8,155.3 L533.5,156.0 L533.1,156.6 L532.7,157.3 L532.3,158.0 L531.8,158.6 L531.3,159.2 L530.8,159.8 L530.3,160.3 L529.8,160.9 L529.3,161.4 L528.8,161.9 L528.4,162.3 L528.0,162.8 L527.6,163.2 L527.2,163.6 L526.8,164.0 L526.4,164.3 L526.0,164.6 L525.7,164.9 L525.4,165.2 L525.1,165.4 L524.9,165.5" stroke="#a81c0e" stroke-width="1.2" fill="none" opacity="0.5"/><path d="M458.1,78.3 L458.6,77.8 L459.2,77.2 L459.8,76.5 L460.4,75.9 L461.1,75.2 L461.7,74.6 L462.4,74.0 L463.0,73.5 L463.7,73.0 L464.4,72.6 L465.0,72.2 L465.7,71.8 L466.4,71.4 L467.2,71.1 L467.9,70.8 L468.7,70.5 L469.5,70.2 L470.2,69.9 L471.1,69.6 L471.9,69.4 L472.7,69.2 L473.6,69.0 L474.5,68.8 L475.4,68.7 L476.3,68.5 L477.2,68.4 L478.1,68.4 L479.0,68.3 L480.0,68.4 L480.9,68.4 L481.9,68.5 L482.8,68.6 L483.8,68.7 L484.7,68.9 L485.7,69.1 L486.6,69.3 L487.6,69.6 L488.5,69.8 L489.4,70.2 L490.3,70.5 L491.2,70.9 L492.1,71.4 L493.0,71.8 L493.9,72.3 L494.7,72.9 L495.6,73.4 L496.4,74.0 L497.3,74.5 L498.1,75.2 L499.0,75.8 L499.8,76.4 L500.6,77.1 L501.4,77.8 L502.2,78.5 L503.0,79.2 L503.8,80.0 L504.6,80.8 L505.4,81.7 L506.2,82.6 L507.0,83.5 L507.8,84.5 L508.6,85.5 L509.3,86.5 L510.1,87.5 L510.9,88.6 L511.6,89.7 L512.4,90.9 L513.2,92.0 L514.0,93.3 L514.8,94.6 L515.6,95.9 L516.4,97.3 L517.2,98.7 L518.0,100.1 L518.8,101.6 L519.6,103.0 L520.3,104.4 L521.0,105.7 L521.7,107.0 L522.4,108.3 L523.1,109.6 L523.8,110.8 L524.4,112.1 L525.0,113.4 L525.6,114.6 L526.2,115.9 L526.8,117.2 L527.3,118.4 L527.8,119.8 L528.3,121.1 L528.7,122.4 L529.1,123.7 L529.5,125.1 L529.9,126.4 L530.2,127.7 L530.5,129.1 L530.8,130.4 L531.1,131.7 L531.3,132.9 L531.5,134.2 L531.7,135.5 L531.9,136.8" stroke="#ff5438" stroke-width="2.2" fill="none" opacity="0.5" stroke-linecap="round"/>
</g>
<g id="arrows" filter="url(#soft2)">
<line x1="259" y1="113" x2="253.0" y2="204.5" stroke="#ee2a1c" stroke-width="3.1"/><path d="M252,219.5 L248.1,202.2 L258.1,202.9 Z" fill="#f0281a"/>
<line x1="262" y1="351" x2="262.2" y2="282.0" stroke="#ee2a1c" stroke-width="2.5"/><path d="M262.3,264 L268.7,284.0 L255.7,284.0 Z" fill="#f0281a"/>
<line x1="344" y1="354" x2="310.7" y2="292.8" stroke="#ee2a1c" stroke-width="2.5"/><path d="M301.2,275.2 L317.4,291.4 L306.0,297.6 Z" fill="#f0281a"/>
<line x1="383.5" y1="311" x2="344.3" y2="249.1" stroke="#ee2a1c" stroke-width="2.5"/><path d="M333.6,232.2 L350.9,247.3 L339.9,254.3 Z" fill="#f0281a"/>
<line x1="438" y1="295" x2="405.1" y2="234.6" stroke="#ee2a1c" stroke-width="2.5"/><path d="M395.5,217 L411.7,233.2 L400.3,239.4 Z" fill="#f0281a"/>
</g>
<g id="labels" filter="url(#softT)">

<text x="176" y="42" textLength="163" lengthAdjust="spacingAndGlyphs">Silver front end is</text>
<text x="176" y="70.3" textLength="190" lengthAdjust="spacingAndGlyphs">friction-welded onto</text>
<text x="176" y="96.6" textLength="113" lengthAdjust="spacingAndGlyphs">copper base</text>
<text x="453.5" y="310" textLength="112" lengthAdjust="spacingAndGlyphs">copper base</text>
<text x="392" y="341" textLength="145.5" lengthAdjust="spacingAndGlyphs">cooling channel</text>
<text x="353" y="378.5" textLength="140" lengthAdjust="spacingAndGlyphs">silver front end</text>
<text x="118" y="370" textLength="133.5" lengthAdjust="spacingAndGlyphs">hafnium/silver</text>
<text x="147.3" y="397.6" textLength="80" lengthAdjust="spacingAndGlyphs">interface</text>

</g>
</svg>
</body></html>
